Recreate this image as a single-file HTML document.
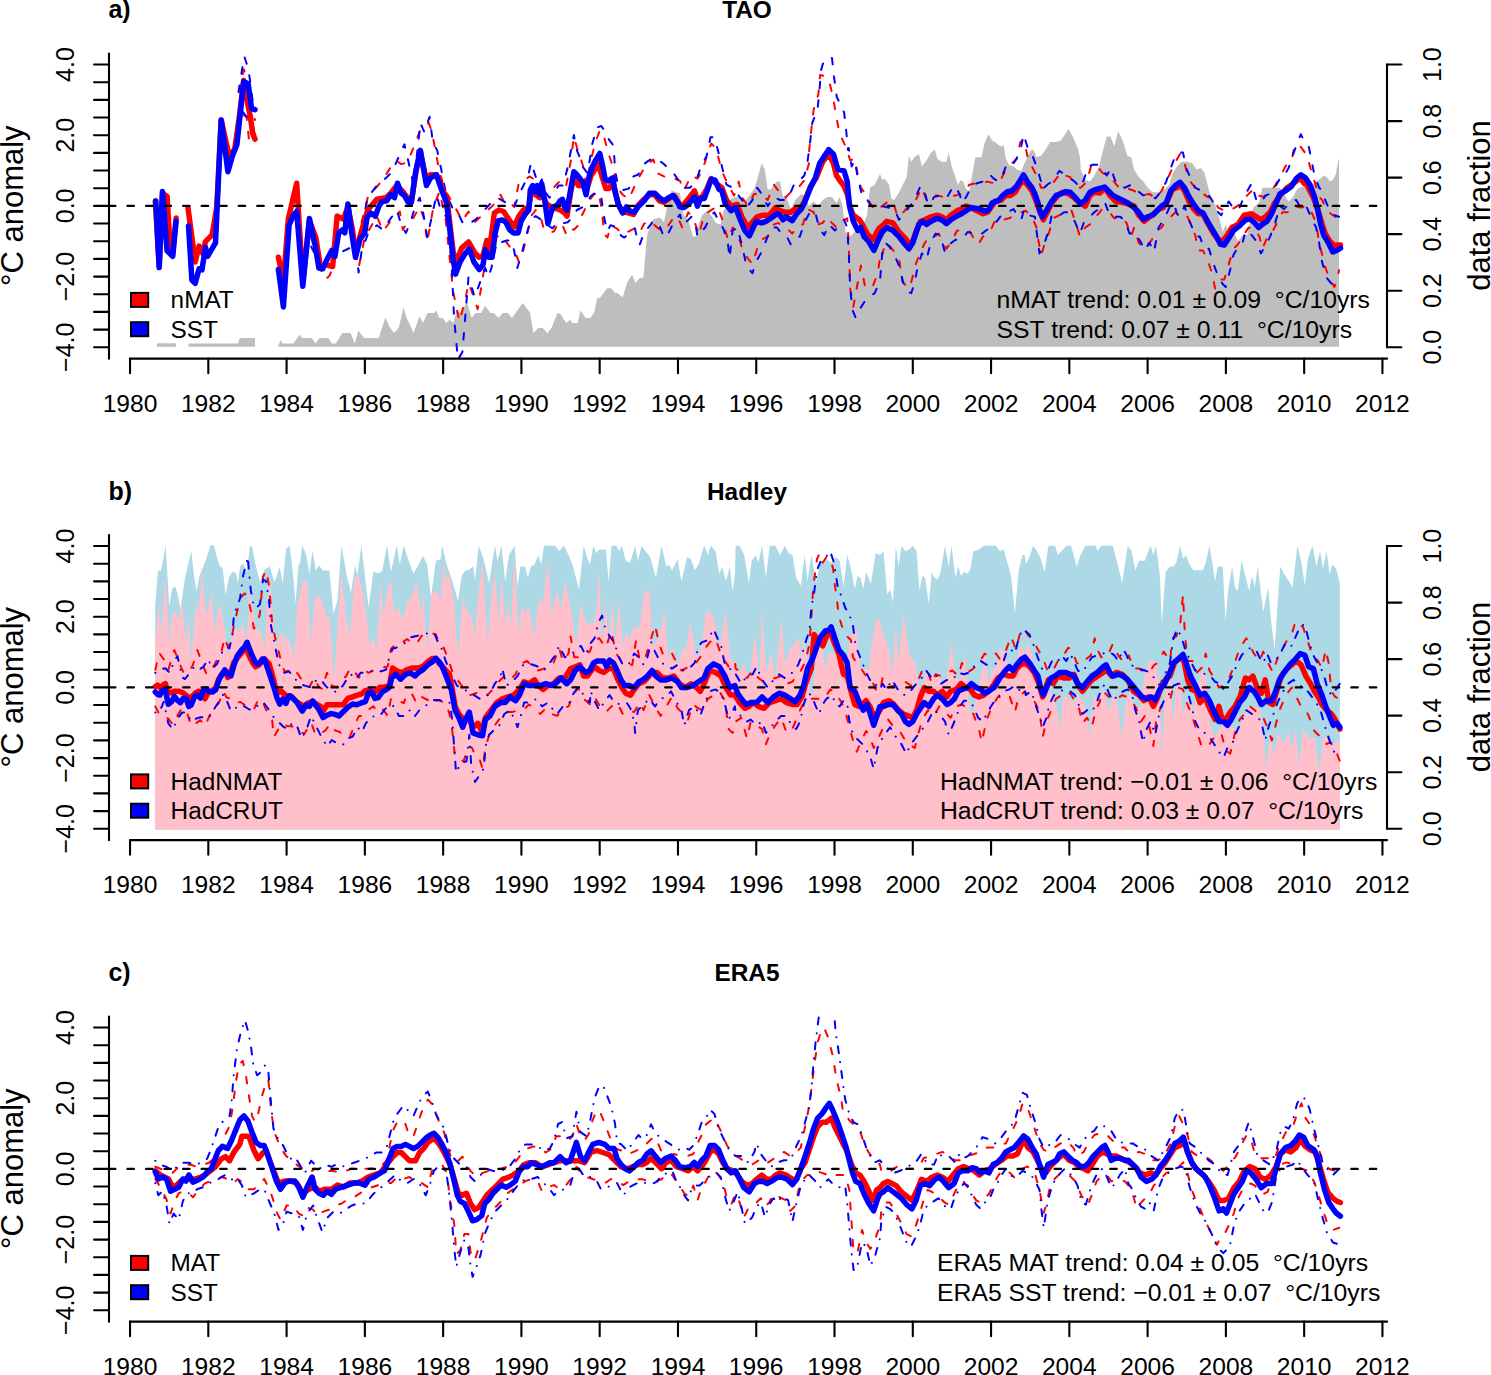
<!DOCTYPE html>
<html><head><meta charset="utf-8"><style>html,body{margin:0;padding:0;background:#fff;}svg{display:block;}</style></head><body>
<svg width="1491" height="1375" viewBox="0 0 1491 1375" font-family='"Liberation Sans", sans-serif'>
<rect width="1491" height="1375" fill="#fff"/>
<defs><clipPath id="cp0"><rect x="108" y="52.6" width="1280" height="306.4"/></clipPath><clipPath id="cp1"><rect x="108" y="534.1" width="1280" height="306.4"/></clipPath><clipPath id="cp2"><rect x="108" y="1015.6" width="1280" height="306.4"/></clipPath></defs>
<g clip-path="url(#cp0)">
<polygon points="157.0,346.8 157.0,343.3 176.0,343.3 176.0,346.8" fill="#bebebe"/>
<polygon points="188.5,346.8 188.5,343.5 238.0,343.5 240.0,338.0 255.0,338.0 255.0,346.8" fill="#bebebe"/>
<polygon points="278.3,346.8 278.3,345.8 280.5,340.0 282.7,343.5 293.5,343.5 299.5,334.8 302.2,338.1 311.6,338.1 315.6,343.5 319.6,338.1 328.4,338.1 331.7,343.5 335.7,343.5 342.4,333.0 350.5,333.0 354.8,343.5 358.5,330.6 363.9,338.1 378.7,338.1 385.4,317.6 390.1,327.7 394.1,333.0 398.8,327.7 403.5,306.9 406.2,316.9 409.5,323.7 413.5,333.0 419.6,316.3 422.9,323.0 427.6,312.9 434.3,312.9 436.3,310.2 439.0,317.6 443.0,318.3 446.4,323.0 449.7,319.6 453.1,323.0 457.1,310.2 460.5,312.9 467.0,302.3 471.7,317.7 475.7,313.0 481.1,313.0 485.1,305.7 490.5,313.0 493.8,313.0 498.5,318.1 502.6,313.0 507.9,313.0 511.9,318.1 522.7,303.0 530.1,312.4 533.4,333.2 538.1,328.1 542.8,328.1 547.5,333.2 551.5,327.8 557.6,313.0 560.2,313.7 566.3,323.1 570.3,319.8 572.3,323.1 577.7,323.1 580.4,310.4 585.7,318.1 590.4,318.1 594.4,311.7 597.1,298.0 599.8,298.0 607.2,288.2 611.2,288.2 615.2,292.9 617.9,293.2 622.6,297.6 627.3,282.2 632.0,274.8 635.4,282.9 639.4,278.2 643.4,277.5 647.2,234.4 653.3,219.1 660.1,217.6 664.0,222.2 667.0,206.9 671.6,190.1 673.9,191.6 680.0,193.2 683.7,215.2 688.3,219.8 692.9,236.6 696.0,236.6 699.0,222.9 702.1,215.2 706.7,210.7 711.2,215.2 715.8,222.9 720.4,224.4 723.5,210.7 728.0,206.1 731.1,198.4 735.7,196.9 740.3,196.9 744.8,201.5 749.4,195.4 754.0,189.3 757.1,180.1 761.6,163.3 764.7,169.4 767.7,189.3 770.8,189.3 773.9,184.7 776.9,181.6 780.0,181.6 783.0,196.9 786.1,195.4 790.7,209.1 795.2,200.0 801.3,193.9 804.4,195.4 809.0,206.1 813.6,201.5 818.1,206.1 822.7,200.0 827.3,196.9 831.9,196.9 836.5,203.0 839.5,196.9 842.6,206.1 845.6,232.0 850.2,236.6 853.3,233.6 859.4,224.4 864.0,222.9 867.0,215.2 870.1,187.7 874.7,184.7 880.0,174.0 882.2,180.1 884.5,178.6 886.8,181.6 889.1,184.7 891.4,198.4 894.4,200.0 899.0,192.3 903.6,183.2 906.7,177.1 908.9,155.7 911.2,161.8 914.3,157.2 918.9,154.1 921.9,166.4 926.5,160.3 931.1,152.6 934.9,149.6 937.2,158.7 941.8,161.8 946.4,161.8 948.7,152.6 951.7,166.4 954.8,175.5 957.8,184.7 960.9,180.1 963.2,181.6 966.2,189.3 969.3,190.8 972.3,174.0 975.4,157.2 981.5,157.2 984.5,143.5 988.4,134.3 992.2,140.4 995.2,141.9 998.3,145.0 1001.3,146.5 1003.6,145.0 1005.9,158.7 1009.0,164.8 1013.6,166.4 1016.6,169.4 1021.2,170.9 1025.8,160.3 1030.4,151.1 1033.4,149.6 1036.5,157.2 1041.1,155.7 1045.6,149.6 1050.2,141.9 1055.6,141.9 1060.9,140.4 1068.5,128.9 1073.1,137.3 1077.7,148.0 1080.0,157.2 1080.7,169.4 1085.3,180.1 1089.9,181.6 1094.4,175.5 1099.0,166.4 1102.8,151.1 1106.7,136.6 1110.5,136.6 1114.3,146.5 1118.1,131.2 1122.7,140.4 1127.3,155.7 1131.1,157.2 1134.1,169.4 1138.7,177.1 1143.3,181.6 1147.9,187.7 1152.5,192.3 1158.6,192.3 1164.7,189.3 1169.3,184.7 1172.3,174.0 1176.9,166.4 1181.5,161.8 1187.6,161.8 1192.2,163.3 1196.8,169.4 1200.6,167.9 1204.4,172.5 1207.5,184.7 1210.5,195.4 1215.1,204.5 1219.7,219.8 1222.7,232.0 1225.8,224.4 1228.8,233.6 1233.4,230.5 1238.0,241.2 1242.6,235.1 1247.2,235.1 1253.3,207.6 1255.6,206.1 1259.4,201.5 1262.4,187.7 1268.5,187.7 1274.7,187.7 1280.0,187.7 1285.5,196.9 1288.6,201.5 1293.2,196.9 1296.2,190.8 1299.3,187.7 1303.9,186.2 1306.9,187.7 1311.5,186.2 1316.1,181.6 1320.7,178.6 1323.7,175.5 1326.8,177.1 1329.8,181.6 1332.9,180.1 1335.9,174.0 1338.2,160.3 1339.0,158.7 1339.0,346.8" fill="#bebebe"/>
<polyline points="361.6,222.2 367.7,197.7 383.0,179.4 390.7,167.2 396.8,161.1 401.3,164.1 407.5,162.6 416.6,139.7 421.2,127.5 428.8,122.9 431.9,132.1 438.0,164.1 444.1,188.6 453.3,203.9 462.4,220.7 468.5,211.5 474.7,222.2 492.9,205.4 500.5,194.7 505.1,203.9 511.2,203.9 514.3,206.9 518.9,182.5 523.5,180.9 529.6,176.4 534.1,179.4 538.7,187.1 543.3,191.6 550.9,191.6 555.5,185.5 561.6,179.4 566.2,185.5 570.8,161.1 573.9,136.7 576.9,147.3 583.0,165.7 586.1,185.5 590.7,161.1 595.2,142.8 599.8,130.5 602.9,132.1 607.5,150.4 612.0,164.1 618.1,188.6 622.7,194.7 628.8,199.3 634.9,185.5 639.5,176.4 645.6,165.7 653.3,159.6 657.9,173.3 664.0,176.4 670.1,176.4 676.2,179.4 680.0,180.9 683.7,190.8 691.4,175.5 697.5,178.6 702.1,170.9 708.2,152.6 711.2,143.5 715.8,148.0 721.9,170.9 728.0,184.7 734.1,195.4 738.7,181.6 741.8,196.9 747.9,206.1 754.0,193.9 760.1,193.9 767.7,200.0 773.9,184.7 778.4,190.8 784.5,198.4 792.2,190.8 798.3,187.7 804.4,180.1 809.0,163.3 809.2,150.0 811.4,129.0 813.6,109.8 818.4,94.1 820.1,74.9 824.0,76.0 828.9,80.1 832.8,95.9 835.9,114.2 839.3,132.5 846.3,148.2 850.2,160.3 854.8,158.7 857.9,175.5 860.9,187.7 865.5,193.9 870.1,203.0 874.7,210.7 880.0,207.6 882.2,206.1 889.9,200.0 894.4,206.1 897.5,216.8 903.6,212.2 909.7,204.5 915.8,200.0 921.9,187.7 926.5,200.0 931.1,195.4 937.2,195.4 943.3,196.9 949.4,196.9 955.5,195.4 961.6,193.9 969.3,184.7 975.4,183.2 981.5,183.2 987.6,181.6 993.7,183.2 999.8,181.6 1004.4,172.5 1010.5,164.8 1016.6,158.7 1020.4,141.9 1024.3,140.4 1027.3,155.7 1031.9,166.4 1036.5,175.5 1041.1,187.7 1045.6,187.7 1051.7,184.7 1056.3,178.6 1060.9,172.5 1065.5,175.5 1070.1,177.1 1074.7,184.7 1080.0,187.7 1080.7,187.7 1086.8,181.6 1091.4,164.8 1097.5,166.4 1102.1,172.5 1106.7,175.5 1112.8,180.1 1118.9,187.7 1125.0,187.7 1134.1,190.8 1141.8,195.4 1149.4,193.9 1155.5,198.4 1161.6,190.8 1167.7,178.6 1173.9,164.8 1180.0,154.1 1184.5,163.3 1189.1,180.1 1195.2,187.7 1201.3,192.3 1207.5,196.9 1213.6,198.4 1218.1,207.6 1224.3,210.7 1228.8,210.7 1234.9,207.6 1239.5,204.5 1244.1,198.4 1248.7,193.9 1253.3,189.3 1257.9,195.4 1264.0,196.9 1268.5,193.9 1274.7,186.2 1280.0,177.1 1287.1,163.3 1291.6,160.3 1294.7,145.0 1299.3,145.0 1303.9,151.1 1306.9,155.7 1310.0,166.4 1314.5,181.6 1319.1,196.9 1322.2,200.0 1326.8,210.7 1332.9,215.2 1337.5,218.3" fill="none" stroke="#f00" stroke-width="2" stroke-linejoin="round" stroke-linecap="round" stroke-dasharray="6.6 11.9"/>
<polyline points="352.5,234.4 358.6,268.0 364.7,237.5 376.9,216.1 383.0,231.3 392.2,219.1 399.8,211.5 402.9,229.8 407.5,222.2 413.6,217.6 419.7,206.9 424.3,219.1 427.3,242.0 433.4,206.9 439.5,191.6 445.6,219.1 453.3,292.4 459.4,321.5 465.5,298.5 468.5,283.3 471.6,290.9 477.7,309.2 485.3,261.9 489.9,252.7 496.0,237.5 500.5,234.4 509.7,246.6 514.3,249.7 518.9,261.9 521.9,255.8 526.5,237.5 531.1,216.1 535.7,210.0 540.3,216.1 543.3,226.8 549.4,232.9 554.0,231.3 558.6,222.2 563.2,226.8 566.2,234.4 569.3,228.3 573.9,229.8 578.4,225.2 581.5,216.1 586.1,206.9 589.1,200.8 593.7,194.7 598.3,191.6 601.3,206.9 604.4,234.4 607.5,237.5 610.5,225.2 616.6,228.3 622.7,234.4 628.8,231.3 634.9,228.3 639.5,232.9 644.1,223.7 650.2,220.7 656.3,226.8 662.4,231.3 668.5,225.2 674.7,216.1 680.0,222.2 682.2,227.5 688.3,212.2 694.4,221.3 699.0,235.1 703.6,216.8 708.2,212.2 712.8,209.1 717.3,206.1 721.9,218.3 728.0,239.7 732.6,227.5 737.2,232.0 741.8,247.3 746.4,256.5 752.5,264.1 757.1,248.8 761.6,239.7 767.7,236.6 773.9,224.4 778.4,222.9 783.0,227.5 787.6,229.0 792.2,233.6 798.3,225.9 802.9,224.4 807.5,209.1 813.6,212.2 818.1,224.4 822.7,222.9 827.3,216.8 831.9,222.9 836.5,227.5 841.1,221.3 847.2,218.3 848.7,242.7 850.2,288.5 853.3,306.9 860.9,265.6 865.5,288.5 873.1,285.5 877.7,273.3 880.0,258.0 880.7,261.1 885.3,242.7 888.3,244.3 894.4,251.9 899.0,258.0 902.1,280.9 908.2,288.5 911.2,282.4 915.8,264.1 920.4,251.9 925.0,242.7 929.6,236.6 934.1,236.6 938.7,233.6 943.3,242.7 946.4,248.8 950.9,242.7 957.1,230.5 963.2,230.5 969.3,230.5 975.4,241.2 978.4,244.3 983.0,236.6 990.7,230.5 995.2,219.8 1002.9,219.8 1009.0,218.3 1015.1,215.2 1021.2,212.2 1025.8,210.7 1031.9,216.8 1036.5,227.5 1038.0,238.1 1041.1,254.9 1044.1,245.8 1048.7,233.6 1053.3,218.3 1059.4,215.2 1065.5,212.2 1071.6,210.7 1076.2,224.4 1080.0,236.6 1085.3,227.5 1089.9,224.4 1096.0,216.8 1102.1,209.1 1108.2,210.7 1114.3,218.3 1120.4,216.8 1126.5,222.9 1131.1,236.6 1134.1,227.5 1138.7,242.7 1144.8,248.8 1150.9,241.2 1157.1,230.5 1161.6,227.5 1164.7,222.9 1169.3,218.3 1175.4,212.2 1181.5,215.2 1187.6,216.8 1190.7,224.4 1195.2,235.1 1198.3,250.4 1202.9,250.4 1207.5,259.5 1212.0,273.3 1215.1,288.5 1219.7,279.4 1224.3,279.4 1228.8,264.1 1233.4,248.8 1238.0,244.3 1242.6,236.6 1248.7,227.5 1254.8,229.0 1259.4,236.6 1262.4,248.8 1267.0,238.1 1273.1,230.5 1280.0,216.8 1282.5,212.2 1288.6,212.2 1294.7,206.1 1300.8,207.6 1306.9,206.1 1311.5,212.2 1316.1,222.9 1319.1,242.7 1322.2,254.9 1325.2,267.2 1329.8,279.4 1334.4,287.0 1337.5,277.9 1339.0,270.2" fill="none" stroke="#f00" stroke-width="2" stroke-linejoin="round" stroke-linecap="round" stroke-dasharray="6.6 11.9"/>
<polyline points="239.0,92.0 243.9,69.4 246.6,77.0 250.0,95.0 253.0,110.0 255.0,120.0" fill="none" stroke="#f00" stroke-width="2" stroke-linejoin="round" stroke-linecap="round" stroke-dasharray="6.6 11.9"/>
<polyline points="243.5,115.2 246.6,116.8 249.0,140.0 252.0,143.0 255.0,145.0" fill="none" stroke="#f00" stroke-width="2" stroke-linejoin="round" stroke-linecap="round" stroke-dasharray="6.6 11.9"/>
<polyline points="318.9,264.9 322.7,274.1 325.7,279.5 329.6,275.6 332.6,268.0" fill="none" stroke="#f00" stroke-width="2" stroke-linejoin="round" stroke-linecap="round" stroke-dasharray="6.6 11.9"/>
<polyline points="361.6,226.8 367.7,197.7 376.9,185.5 386.1,177.9 392.2,171.8 396.8,161.1 404.4,144.3 409.0,164.1 413.6,185.5 420.4,122.9 424.3,132.1 429.6,116.8 432.7,141.2 437.2,150.4 441.1,168.7 445.6,191.6 453.3,210.0 457.9,213.0 462.4,222.2 467.0,225.2 476.2,219.1 492.9,200.8 497.5,197.7 505.1,202.3 509.7,206.9 514.3,206.9 518.9,194.7 523.5,185.5 528.0,176.4 531.1,162.6 534.1,171.8 538.7,185.5 541.8,179.4 544.8,191.6 549.4,197.7 554.0,193.2 558.6,185.5 563.2,185.5 567.7,167.2 573.9,135.1 576.9,150.4 580.0,158.0 583.0,167.2 587.6,173.3 592.2,144.3 596.8,127.5 601.3,126.0 604.4,130.5 609.0,139.7 613.6,145.8 615.1,170.3 618.1,185.5 622.7,190.1 628.8,188.6 633.4,176.4 638.0,174.8 644.1,164.1 647.9,161.1 653.3,158.0 657.9,159.6 664.0,164.1 668.5,168.7 674.7,174.8 680.0,182.5 682.2,187.7 689.9,187.7 696.0,181.6 700.5,167.9 706.7,155.7 710.5,137.3 714.3,137.3 717.3,148.0 721.9,166.4 726.5,184.7 732.6,187.7 737.2,193.9 743.3,201.5 746.4,207.6 752.5,200.0 757.1,187.7 761.6,193.9 767.7,206.1 773.9,196.9 780.0,200.0 786.1,200.0 790.7,192.3 795.2,181.6 801.3,178.6 804.4,175.5 807.5,161.8 810.0,143.0 812.3,122.9 817.5,109.8 819.3,92.4 821.0,70.5 824.0,60.0 827.0,58.3 832.0,58.0 834.0,76.7 836.7,96.7 844.1,112.4 846.3,131.6 848.0,150.0 848.7,148.0 851.7,166.4 854.8,160.3 857.9,178.6 862.4,196.9 865.5,196.9 870.1,204.5 874.7,207.6 880.0,206.1 882.2,206.1 888.3,207.6 894.4,209.1 899.0,219.8 905.1,212.2 911.2,204.5 915.8,196.9 920.4,186.2 923.5,187.7 928.0,204.5 931.1,203.0 934.1,196.9 940.3,195.4 946.4,198.4 952.5,187.7 955.5,186.2 960.1,195.4 961.6,203.0 966.2,196.9 970.8,187.7 976.9,183.2 983.0,181.6 987.6,175.5 990.7,175.5 993.7,178.6 998.3,181.6 1002.9,174.0 1005.9,166.4 1010.5,167.9 1016.6,158.7 1021.2,146.5 1023.5,134.3 1027.3,146.5 1031.9,154.1 1036.5,166.4 1041.1,181.6 1042.6,189.3 1047.2,184.7 1051.7,181.6 1056.3,175.5 1059.4,170.9 1064.0,174.0 1068.5,177.1 1074.7,181.6 1080.0,187.7 1083.7,180.1 1088.3,166.4 1092.9,164.8 1097.5,164.8 1102.1,167.9 1106.7,175.5 1111.2,167.9 1114.3,178.6 1118.9,186.2 1125.0,187.7 1131.1,184.7 1135.7,189.3 1143.3,195.4 1149.4,193.9 1155.5,198.4 1161.6,190.8 1166.2,181.6 1170.8,167.9 1175.4,155.7 1178.4,152.6 1183.0,152.6 1186.1,167.9 1190.7,178.6 1195.2,187.7 1201.3,190.8 1207.5,193.9 1212.0,200.0 1218.1,212.2 1221.2,215.2 1225.8,206.1 1228.8,201.5 1234.9,210.7 1239.5,207.6 1244.1,196.9 1251.7,183.2 1256.3,200.0 1260.9,203.0 1265.5,195.4 1270.1,193.9 1274.7,187.7 1280.0,178.6 1282.5,178.6 1288.6,167.9 1293.2,154.1 1297.7,141.9 1300.8,134.3 1303.9,140.4 1308.4,145.0 1311.5,160.3 1314.5,175.5 1319.1,187.7 1322.2,190.8 1325.2,200.0 1329.8,210.7 1334.4,215.2 1339.0,216.8" fill="none" stroke="#00f" stroke-width="2" stroke-linejoin="round" stroke-linecap="round" stroke-dasharray="6.6 11.9"/>
<polyline points="343.3,251.2 355.5,245.1 358.6,272.6 361.6,251.2 367.7,234.4 376.9,225.2 383.0,229.8 389.1,220.7 396.8,210.0 401.3,225.2 405.9,232.9 410.5,222.2 415.1,206.9 419.7,197.7 422.7,210.0 427.3,237.5 431.9,216.1 436.5,194.7 441.1,211.5 447.2,217.6 451.7,264.9 454.0,316.9 457.9,359.6 462.4,352.0 468.5,277.2 474.7,297.0 485.3,268.0 488.3,277.2 491.4,268.0 494.4,252.7 497.5,240.5 502.1,242.0 506.7,240.5 511.2,240.5 514.3,251.2 517.3,268.0 521.9,252.7 526.5,234.4 531.1,219.1 535.7,216.1 540.3,219.1 544.8,222.2 547.9,225.2 552.5,228.3 557.1,222.2 561.6,223.7 567.7,222.2 570.8,219.1 576.9,210.0 583.0,206.9 586.1,203.9 590.7,196.2 596.8,191.6 601.3,197.7 604.4,219.1 607.5,231.3 610.5,225.2 616.6,226.8 621.2,235.9 624.3,237.5 630.4,232.9 634.9,228.3 638.0,242.0 639.5,245.1 644.1,232.9 650.2,225.2 653.3,220.7 659.4,225.2 664.0,237.5 667.0,235.9 673.1,223.7 677.7,217.6 680.0,214.5 682.2,224.4 685.3,222.9 691.4,216.8 696.0,227.5 697.5,236.6 705.1,227.5 709.7,218.3 714.3,212.2 718.9,221.3 723.5,229.0 728.0,244.3 729.6,258.0 732.6,230.5 737.2,227.5 741.8,244.3 746.4,265.6 752.5,273.3 755.5,262.6 761.6,251.9 767.7,236.6 772.3,227.5 776.9,227.5 781.5,233.6 786.1,235.1 790.7,244.3 795.2,238.1 799.8,236.6 804.4,222.9 810.5,210.7 815.1,212.2 819.7,229.0 824.3,235.1 828.8,224.4 834.9,230.5 839.5,225.9 844.1,219.8 847.2,227.5 848.7,251.9 850.2,288.5 852.5,309.9 855.6,317.6 859.4,309.9 865.5,300.0 874.7,293.1 880.0,280.9 882.2,253.4 885.3,242.7 889.9,247.3 894.4,254.9 899.0,265.6 903.6,284.0 907.4,291.6 911.2,293.1 914.3,284.0 917.3,268.7 921.9,253.4 926.5,259.5 931.1,241.2 935.7,233.6 940.3,235.1 944.8,251.9 949.4,244.3 955.5,239.7 961.6,239.7 967.7,232.0 973.9,233.6 980.0,235.1 986.1,230.5 992.2,225.9 996.8,221.3 1001.3,215.2 1007.5,212.2 1013.6,209.1 1018.1,216.8 1021.2,219.8 1024.3,209.1 1028.8,215.2 1034.9,216.8 1038.0,242.7 1039.5,253.4 1044.1,244.3 1048.7,230.5 1051.7,215.2 1057.9,216.8 1064.0,212.2 1068.5,212.2 1074.7,221.3 1080.0,233.6 1083.7,222.9 1089.9,216.8 1094.4,212.2 1100.5,207.6 1105.1,203.0 1109.7,215.2 1114.3,216.8 1120.4,216.8 1125.0,221.3 1129.6,233.6 1134.1,232.0 1140.3,241.2 1144.8,250.4 1149.4,242.7 1154.0,251.9 1158.6,227.5 1164.7,218.3 1169.3,207.6 1173.9,203.0 1176.9,213.7 1180.0,216.8 1184.5,206.1 1189.1,219.8 1192.2,227.5 1196.8,236.6 1199.8,236.6 1204.4,248.8 1209.0,248.8 1213.6,264.1 1218.1,276.3 1222.7,284.0 1225.8,287.0 1230.4,268.7 1233.4,254.9 1238.0,247.3 1242.6,242.7 1245.6,230.5 1251.7,235.1 1256.3,241.2 1260.9,253.4 1265.5,245.8 1270.1,236.6 1274.7,224.4 1280.0,206.1 1284.0,209.1 1291.6,201.5 1296.2,200.0 1302.3,210.7 1306.9,207.6 1311.5,218.3 1316.1,227.5 1319.1,242.7 1322.2,262.6 1326.8,277.9 1332.9,285.5 1337.5,287.0" fill="none" stroke="#00f" stroke-width="2" stroke-linejoin="round" stroke-linecap="round" stroke-dasharray="6.6 11.9"/>
<polyline points="238.5,92.0 241.2,74.8 244.3,56.5 248.1,67.9 250.0,80.0 252.5,100.0 255.0,108.0" fill="none" stroke="#00f" stroke-width="2" stroke-linejoin="round" stroke-linecap="round" stroke-dasharray="6.6 11.9"/>
<polyline points="243.0,112.0 246.0,116.0 250.4,119.8 252.0,125.0 255.0,135.0" fill="none" stroke="#00f" stroke-width="2" stroke-linejoin="round" stroke-linecap="round" stroke-dasharray="6.6 11.9"/>
<polyline points="311.2,246.6 314.3,252.7 318.9,266.5 322.7,271.1 326.5,274.1" fill="none" stroke="#00f" stroke-width="2" stroke-linejoin="round" stroke-linecap="round" stroke-dasharray="6.6 11.9"/>
<polyline points="155.3,201.1 159.2,266.4 162.5,193.2 167.1,196.5 170.4,252.9 172.7,254.0 176.1,218.0" fill="none" stroke="#f00" stroke-width="5.5" stroke-linejoin="round" stroke-linecap="round"/>
<polyline points="188.0,207.8 195.2,261.9 199.1,246.1 203.1,254.0 205.4,241.6 212.1,234.9 216.7,207.8 221.2,119.9 229.1,156.0 234.7,149.2 239.2,117.6 243.7,80.4 246.0,95.1 250.5,117.6 252.7,133.4 255.0,139.1" fill="none" stroke="#f00" stroke-width="5.5" stroke-linejoin="round" stroke-linecap="round"/>
<polyline points="278.4,257.3 283.4,281.7 288.3,219.1 296.7,183.2 302.8,281.7 309.4,220.7 315.8,237.5 320.4,266.5 326.5,264.9 332.6,266.5 337.2,216.1 343.3,219.1 347.9,206.9 352.5,229.8 355.5,254.3 360.1,235.9 367.7,210.0 376.9,199.3 386.1,197.7 390.7,193.2 396.8,185.5 402.9,191.6 408.2,199.3 411.3,202.3 415.9,171.8 420.4,151.9 426.5,180.9 430.4,174.8 436.5,174.8 441.1,185.5 447.2,200.8 453.3,252.7 456.3,261.9 461.7,248.1 468.5,242.0 474.7,252.7 479.2,257.3 483.0,255.8 486.8,240.5 489.1,252.7 494.4,213.0 499.0,210.0 503.6,211.5 509.7,220.7 514.3,226.8 518.9,216.1 523.5,210.0 528.8,206.9 531.1,193.2 535.7,194.7 539.5,197.7 541.8,193.2 546.4,203.9 550.9,206.9 555.5,208.4 560.1,210.0 564.7,213.0 567.0,216.1 570.8,191.6 573.9,176.4 578.4,185.5 583.0,185.5 586.1,191.6 590.7,176.4 598.3,164.1 602.9,179.4 605.9,188.6 609.0,188.6 612.8,182.5 615.9,194.7 618.9,205.4 622.7,211.5 628.8,213.0 633.4,214.5 638.0,205.4 644.1,199.3 649.5,194.7 654.8,194.7 659.4,200.8 664.0,202.3 670.1,197.7 674.7,196.2 680.0,205.4 683.7,204.5 689.9,196.9 694.4,190.8 697.5,200.0 702.1,196.9 706.7,189.3 711.2,178.6 715.8,183.2 721.9,187.7 726.5,200.0 731.1,206.1 737.2,204.5 741.8,216.8 747.9,227.5 753.2,221.3 757.1,216.8 763.2,215.2 769.3,215.2 775.4,207.6 780.0,210.7 784.5,212.2 790.7,212.2 796.8,207.6 801.3,207.6 804.4,201.5 810.5,186.2 816.6,177.1 822.7,161.8 828.8,154.1 833.4,163.3 836.5,175.5 839.5,180.1 844.1,186.2 847.2,193.9 850.2,207.6 853.3,215.2 859.4,219.8 862.4,224.4 867.0,233.6 873.1,239.7 877.7,230.5 880.0,227.5 882.2,225.9 886.8,221.3 892.9,222.9 899.0,232.0 905.1,238.1 909.7,244.3 912.8,241.2 915.8,232.0 920.4,221.3 925.0,219.8 931.1,216.8 937.2,215.2 941.8,216.8 946.4,219.8 950.9,215.2 957.1,210.7 961.6,209.1 966.2,206.1 970.8,207.6 976.9,210.7 983.0,213.7 987.6,212.2 990.7,207.6 995.2,201.5 1001.3,200.0 1005.9,195.4 1010.5,195.4 1015.1,192.3 1019.7,184.7 1023.5,180.1 1027.3,184.7 1031.9,190.8 1035.7,200.0 1039.5,210.7 1043.3,219.8 1047.2,212.2 1051.7,203.0 1057.9,195.4 1062.4,192.3 1068.5,193.9 1073.1,196.9 1080.0,203.0 1085.3,206.1 1089.9,195.4 1094.4,192.3 1099.8,193.1 1105.1,187.7 1109.7,195.4 1115.8,201.5 1121.9,202.3 1128.0,203.8 1134.1,206.1 1138.7,215.2 1144.1,221.3 1149.4,216.8 1154.0,213.7 1158.6,209.1 1163.2,207.6 1167.7,200.0 1172.3,189.3 1176.9,187.7 1180.0,184.7 1184.5,190.8 1189.1,201.5 1193.7,209.1 1198.3,213.7 1202.9,213.7 1207.5,222.9 1213.6,233.6 1218.1,239.7 1222.7,241.2 1227.3,235.1 1231.9,227.5 1238.0,224.4 1244.1,215.2 1251.7,213.7 1256.3,216.8 1260.9,219.8 1265.5,216.8 1270.1,212.2 1274.7,203.0 1280.0,195.4 1287.1,187.7 1291.6,184.7 1297.7,180.1 1300.8,178.6 1303.9,183.2 1306.9,184.7 1313.0,196.9 1317.6,209.1 1322.2,224.4 1325.2,233.6 1329.8,241.2 1334.4,245.8 1337.5,245.0 1340.5,245.0" fill="none" stroke="#f00" stroke-width="5.5" stroke-linejoin="round" stroke-linecap="round"/>
<polyline points="155.8,201.1 159.2,267.6 162.5,191.6 167.1,250.7 172.7,256.3 176.1,221.3" fill="none" stroke="#00f" stroke-width="5.5" stroke-linejoin="round" stroke-linecap="round"/>
<polyline points="188.5,225.9 191.9,280.0 195.2,283.3 199.1,268.7 202.0,269.8 205.4,247.3 207.6,256.3 215.5,242.8 221.2,119.9 227.9,171.7 232.4,156.0 236.9,144.7 243.7,81.6 248.2,83.8 251.6,108.6 255.0,109.7" fill="none" stroke="#00f" stroke-width="5.5" stroke-linejoin="round" stroke-linecap="round"/>
<polyline points="278.4,269.5 283.4,306.9 289.1,225.2 292.9,216.1 296.7,211.5 302.8,286.3 309.4,218.4 313.5,239.0 315.1,245.1 318.9,268.0 322.7,268.8 327.3,258.8 331.9,250.4 334.9,256.5 338.7,232.9 342.5,229.8 344.8,232.9 347.9,203.9 351.7,232.9 355.5,257.3 360.1,239.0 364.7,232.9 367.0,217.6 370.8,213.0 375.4,216.1 379.2,205.4 382.3,201.6 386.8,200.8 390.7,194.7 394.5,197.7 397.5,183.2 401.3,193.2 404.4,195.5 408.2,202.3 411.3,202.3 415.9,170.3 420.4,150.4 422.7,164.1 426.5,185.5 430.4,177.9 436.5,174.8 441.1,188.6 446.4,202.3 450.2,232.9 453.3,260.4 455.6,274.1 460.1,261.9 464.7,254.3 469.3,248.9 473.9,261.9 479.2,269.5 483.0,264.9 485.3,249.7 489.1,257.3 492.1,257.3 495.2,232.9 498.3,220.7 502.1,219.9 505.9,222.2 509.7,229.8 513.5,232.9 518.1,232.9 521.2,220.7 525.0,214.5 528.8,210.0 530.3,190.1 532.6,185.5 534.9,191.6 537.2,185.5 539.5,194.7 541.8,184.0 544.8,200.8 547.9,223.7 550.9,213.0 553.2,206.9 557.1,205.4 560.1,200.8 562.4,199.3 564.7,206.9 567.0,210.0 570.0,193.2 573.9,171.8 576.9,174.8 583.0,182.5 586.1,194.7 589.1,176.4 592.2,167.2 596.0,159.6 599.8,153.5 602.9,167.2 605.2,179.4 608.2,180.9 612.8,177.9 615.1,191.6 618.1,203.9 622.7,213.0 626.5,206.9 630.4,211.5 634.2,212.3 638.0,206.9 644.1,200.8 649.5,193.2 654.8,193.2 659.4,197.7 664.0,200.8 668.5,197.7 673.1,195.5 677.7,202.3 680.0,206.9 683.7,207.6 688.3,204.5 694.4,196.9 697.5,206.1 700.5,198.4 704.4,198.4 708.2,187.7 711.2,179.3 715.1,180.1 718.9,189.3 721.9,190.8 725.0,203.0 731.1,210.7 735.7,207.6 740.3,219.8 744.8,230.5 749.4,235.9 753.2,227.5 756.3,221.3 761.6,222.9 766.2,221.3 770.8,218.3 776.9,213.7 780.0,215.2 783.0,219.8 786.1,216.8 792.2,220.6 796.8,213.7 801.3,209.1 804.4,203.0 810.5,187.7 815.1,178.6 819.7,163.3 822.7,158.7 828.8,149.6 833.4,154.1 836.5,164.8 838.0,169.4 844.1,170.9 847.2,181.6 849.5,206.1 853.3,221.3 857.9,230.5 860.9,227.5 864.0,236.6 868.5,241.2 873.9,250.4 877.7,241.2 880.0,236.6 882.2,232.0 886.8,227.5 892.9,230.5 899.0,236.6 903.6,242.7 908.9,248.8 912.8,242.7 915.8,233.6 918.9,224.4 922.7,221.3 926.5,224.4 931.1,221.3 937.2,218.3 941.8,219.8 946.4,223.6 950.9,219.8 955.5,216.8 961.6,213.7 966.2,210.7 970.8,207.6 976.9,208.4 981.5,209.9 986.1,211.4 989.1,209.1 992.2,203.0 995.2,201.5 998.3,200.7 1002.9,195.4 1007.5,191.6 1012.0,190.8 1016.6,186.2 1020.4,180.1 1023.5,174.8 1027.3,181.6 1031.9,187.7 1034.9,193.9 1038.0,203.0 1040.3,212.2 1042.6,216.8 1047.2,209.1 1051.7,201.5 1056.3,195.4 1060.9,193.9 1065.5,191.6 1070.1,192.3 1074.7,196.9 1080.0,203.0 1080.7,203.8 1085.3,200.0 1089.9,192.3 1094.4,190.0 1099.8,188.5 1104.4,187.0 1108.2,190.8 1112.8,195.4 1117.3,197.7 1121.9,200.0 1128.0,203.0 1134.1,207.6 1138.7,212.2 1143.3,219.1 1147.9,216.8 1152.5,215.2 1157.1,210.7 1161.6,206.1 1166.2,203.0 1170.8,190.8 1175.4,185.5 1180.0,182.4 1184.5,187.7 1189.1,196.9 1193.7,204.5 1198.3,210.7 1202.9,212.9 1207.5,221.3 1212.0,229.0 1216.6,236.6 1220.4,244.3 1224.3,245.0 1228.8,238.1 1233.4,230.5 1239.5,225.9 1245.6,219.8 1250.2,219.1 1254.8,222.9 1258.6,227.5 1262.4,224.4 1267.0,221.3 1271.6,213.7 1276.2,203.0 1280.0,193.9 1285.5,190.8 1291.6,186.2 1296.2,178.6 1300.8,174.8 1305.4,177.8 1310.0,184.7 1314.5,196.9 1317.6,209.1 1320.7,224.4 1323.7,235.1 1328.3,242.7 1332.9,251.9 1336.7,250.4 1340.5,248.1" fill="none" stroke="#00f" stroke-width="5.5" stroke-linejoin="round" stroke-linecap="round"/>
</g>
<line x1="108.86" y1="205.9" x2="1376.3" y2="205.9" stroke="#000" stroke-width="2.1" stroke-dasharray="6.6 11.943" stroke-linecap="round"/>
<text x="108.4" y="18.2" font-weight="bold" font-size="25">a)</text>
<text x="747" y="18.0" font-weight="bold" font-size="24.4" text-anchor="middle">TAO</text>
<line x1="109" y1="53.6" x2="109" y2="358.7" stroke="#000" stroke-width="2.1" stroke-linecap="round"/>
<line x1="94.05" y1="347.26" x2="109" y2="347.26" stroke="#000" stroke-width="2.1" stroke-linecap="round"/>
<line x1="94.05" y1="329.59" x2="109" y2="329.59" stroke="#000" stroke-width="2.1" stroke-linecap="round"/>
<line x1="94.05" y1="311.92" x2="109" y2="311.92" stroke="#000" stroke-width="2.1" stroke-linecap="round"/>
<line x1="94.05" y1="294.25" x2="109" y2="294.25" stroke="#000" stroke-width="2.1" stroke-linecap="round"/>
<line x1="94.05" y1="276.58" x2="109" y2="276.58" stroke="#000" stroke-width="2.1" stroke-linecap="round"/>
<line x1="94.05" y1="258.91" x2="109" y2="258.91" stroke="#000" stroke-width="2.1" stroke-linecap="round"/>
<line x1="94.05" y1="241.24" x2="109" y2="241.24" stroke="#000" stroke-width="2.1" stroke-linecap="round"/>
<line x1="94.05" y1="223.57" x2="109" y2="223.57" stroke="#000" stroke-width="2.1" stroke-linecap="round"/>
<line x1="94.05" y1="205.90" x2="109" y2="205.90" stroke="#000" stroke-width="2.1" stroke-linecap="round"/>
<line x1="94.05" y1="188.23" x2="109" y2="188.23" stroke="#000" stroke-width="2.1" stroke-linecap="round"/>
<line x1="94.05" y1="170.56" x2="109" y2="170.56" stroke="#000" stroke-width="2.1" stroke-linecap="round"/>
<line x1="94.05" y1="152.89" x2="109" y2="152.89" stroke="#000" stroke-width="2.1" stroke-linecap="round"/>
<line x1="94.05" y1="135.22" x2="109" y2="135.22" stroke="#000" stroke-width="2.1" stroke-linecap="round"/>
<line x1="94.05" y1="117.55" x2="109" y2="117.55" stroke="#000" stroke-width="2.1" stroke-linecap="round"/>
<line x1="94.05" y1="99.88" x2="109" y2="99.88" stroke="#000" stroke-width="2.1" stroke-linecap="round"/>
<line x1="94.05" y1="82.21" x2="109" y2="82.21" stroke="#000" stroke-width="2.1" stroke-linecap="round"/>
<line x1="94.05" y1="64.54" x2="109" y2="64.54" stroke="#000" stroke-width="2.1" stroke-linecap="round"/>
<text transform="translate(74.2,64.5) rotate(-90)" font-size="25" text-anchor="middle">4.0</text>
<text transform="translate(74.2,135.2) rotate(-90)" font-size="25" text-anchor="middle">2.0</text>
<text transform="translate(74.2,205.9) rotate(-90)" font-size="25" text-anchor="middle">0.0</text>
<text transform="translate(74.2,276.6) rotate(-90)" font-size="25" text-anchor="middle">−2.0</text>
<text transform="translate(74.2,347.3) rotate(-90)" font-size="25" text-anchor="middle">−4.0</text>
<text transform="translate(23.3,205.7) rotate(-90)" font-size="31" text-anchor="middle">°C anomaly</text>
<line x1="130.04" y1="358.6" x2="1387.1" y2="358.6" stroke="#000" stroke-width="2.1" stroke-linecap="round"/>
<line x1="130.04" y1="358.6" x2="130.04" y2="373.3" stroke="#000" stroke-width="2.1" stroke-linecap="round"/>
<text x="130.0" y="411.7" font-size="24.6" text-anchor="middle">1980</text>
<line x1="208.31" y1="358.6" x2="208.31" y2="373.3" stroke="#000" stroke-width="2.1" stroke-linecap="round"/>
<text x="208.3" y="411.7" font-size="24.6" text-anchor="middle">1982</text>
<line x1="286.59" y1="358.6" x2="286.59" y2="373.3" stroke="#000" stroke-width="2.1" stroke-linecap="round"/>
<text x="286.6" y="411.7" font-size="24.6" text-anchor="middle">1984</text>
<line x1="364.87" y1="358.6" x2="364.87" y2="373.3" stroke="#000" stroke-width="2.1" stroke-linecap="round"/>
<text x="364.9" y="411.7" font-size="24.6" text-anchor="middle">1986</text>
<line x1="443.14" y1="358.6" x2="443.14" y2="373.3" stroke="#000" stroke-width="2.1" stroke-linecap="round"/>
<text x="443.1" y="411.7" font-size="24.6" text-anchor="middle">1988</text>
<line x1="521.41" y1="358.6" x2="521.41" y2="373.3" stroke="#000" stroke-width="2.1" stroke-linecap="round"/>
<text x="521.4" y="411.7" font-size="24.6" text-anchor="middle">1990</text>
<line x1="599.69" y1="358.6" x2="599.69" y2="373.3" stroke="#000" stroke-width="2.1" stroke-linecap="round"/>
<text x="599.7" y="411.7" font-size="24.6" text-anchor="middle">1992</text>
<line x1="677.97" y1="358.6" x2="677.97" y2="373.3" stroke="#000" stroke-width="2.1" stroke-linecap="round"/>
<text x="678.0" y="411.7" font-size="24.6" text-anchor="middle">1994</text>
<line x1="756.24" y1="358.6" x2="756.24" y2="373.3" stroke="#000" stroke-width="2.1" stroke-linecap="round"/>
<text x="756.2" y="411.7" font-size="24.6" text-anchor="middle">1996</text>
<line x1="834.51" y1="358.6" x2="834.51" y2="373.3" stroke="#000" stroke-width="2.1" stroke-linecap="round"/>
<text x="834.5" y="411.7" font-size="24.6" text-anchor="middle">1998</text>
<line x1="912.79" y1="358.6" x2="912.79" y2="373.3" stroke="#000" stroke-width="2.1" stroke-linecap="round"/>
<text x="912.8" y="411.7" font-size="24.6" text-anchor="middle">2000</text>
<line x1="991.07" y1="358.6" x2="991.07" y2="373.3" stroke="#000" stroke-width="2.1" stroke-linecap="round"/>
<text x="991.1" y="411.7" font-size="24.6" text-anchor="middle">2002</text>
<line x1="1069.34" y1="358.6" x2="1069.34" y2="373.3" stroke="#000" stroke-width="2.1" stroke-linecap="round"/>
<text x="1069.3" y="411.7" font-size="24.6" text-anchor="middle">2004</text>
<line x1="1147.62" y1="358.6" x2="1147.62" y2="373.3" stroke="#000" stroke-width="2.1" stroke-linecap="round"/>
<text x="1147.6" y="411.7" font-size="24.6" text-anchor="middle">2006</text>
<line x1="1225.89" y1="358.6" x2="1225.89" y2="373.3" stroke="#000" stroke-width="2.1" stroke-linecap="round"/>
<text x="1225.9" y="411.7" font-size="24.6" text-anchor="middle">2008</text>
<line x1="1304.16" y1="358.6" x2="1304.16" y2="373.3" stroke="#000" stroke-width="2.1" stroke-linecap="round"/>
<text x="1304.2" y="411.7" font-size="24.6" text-anchor="middle">2010</text>
<line x1="1382.44" y1="358.6" x2="1382.44" y2="373.3" stroke="#000" stroke-width="2.1" stroke-linecap="round"/>
<text x="1382.4" y="411.7" font-size="24.6" text-anchor="middle">2012</text>
<line x1="1387" y1="64.56" x2="1387" y2="347.25" stroke="#000" stroke-width="2.1" stroke-linecap="round"/>
<line x1="1387" y1="347.25" x2="1401.4" y2="347.25" stroke="#000" stroke-width="2.1" stroke-linecap="round"/>
<text transform="translate(1441,347.2) rotate(-90)" font-size="25" text-anchor="middle">0.0</text>
<line x1="1387" y1="290.71" x2="1401.4" y2="290.71" stroke="#000" stroke-width="2.1" stroke-linecap="round"/>
<text transform="translate(1441,290.7) rotate(-90)" font-size="25" text-anchor="middle">0.2</text>
<line x1="1387" y1="234.17" x2="1401.4" y2="234.17" stroke="#000" stroke-width="2.1" stroke-linecap="round"/>
<text transform="translate(1441,234.2) rotate(-90)" font-size="25" text-anchor="middle">0.4</text>
<line x1="1387" y1="177.64" x2="1401.4" y2="177.64" stroke="#000" stroke-width="2.1" stroke-linecap="round"/>
<text transform="translate(1441,177.6) rotate(-90)" font-size="25" text-anchor="middle">0.6</text>
<line x1="1387" y1="121.10" x2="1401.4" y2="121.10" stroke="#000" stroke-width="2.1" stroke-linecap="round"/>
<text transform="translate(1441,121.1) rotate(-90)" font-size="25" text-anchor="middle">0.8</text>
<line x1="1387" y1="64.56" x2="1401.4" y2="64.56" stroke="#000" stroke-width="2.1" stroke-linecap="round"/>
<text transform="translate(1441,64.6) rotate(-90)" font-size="25" text-anchor="middle">1.0</text>
<text transform="translate(1490,205.5) rotate(-90)" font-size="31" text-anchor="middle">data fraction</text>
<rect x="131" y="292.9" width="17.2" height="14" fill="#f00" stroke="#000" stroke-width="2"/>
<rect x="131" y="322.2" width="17.2" height="14" fill="#00f" stroke="#000" stroke-width="2"/>
<text x="170.6" y="308.2" font-size="24.35">nMAT</text>
<text x="170.6" y="337.7" font-size="24.35">SST</text>
<text x="996.6" y="308.2" font-size="24.75" style="white-space:pre">nMAT trend: 0.01 ± 0.09  °C/10yrs</text>
<text x="996.6" y="337.7" font-size="24.75" style="white-space:pre">SST trend: 0.07 ± 0.11  °C/10yrs</text>
<g clip-path="url(#cp1)">
<polygon points="155.2,829.4 155.2,605.2 157.9,570.8 161.1,570.8 165.7,545.2 169.2,605.7 172.1,588.9 175.0,586.0 177.9,594.7 180.5,608.7 184.9,578.4 191.3,550.5 193.6,572.6 196.5,591.2 199.5,576.1 202.4,569.1 205.9,559.8 210.5,545.2 214.0,545.2 216.9,557.5 219.8,566.2 222.7,567.9 225.6,594.7 229.1,577.2 232.6,571.4 236.1,573.7 237.9,583.1 240.2,566.2 243.1,563.3 246.6,572.6 250.1,545.2 252.4,548.1 255.3,563.3 258.2,574.9 260.5,581.9 264.0,570.3 267.5,567.9 269.9,566.8 272.2,574.9 274.5,581.9 276.8,576.1 279.7,566.8 282.7,583.1 286.1,549.3 289.6,545.2 293.1,574.9 295.5,603.4 298.4,565.6 300.0,563.3 302.2,545.6 306.2,554.4 309.4,573.6 312.6,550.4 315.8,570.4 319.0,565.6 323.0,570.4 329.4,570.4 333.4,613.6 337.4,600.8 341.4,545.6 347.0,576.8 351.0,592.8 355.0,565.6 357.4,575.2 361.4,545.6 365.4,580.0 368.6,607.2 373.4,571.2 378.2,573.6 382.2,571.2 387.0,545.6 391.0,572.0 396.6,545.6 399.8,564.0 403.8,545.6 408.6,560.8 413.4,573.6 418.2,565.6 423.0,556.0 427.0,564.0 431.0,597.6 435.8,560.8 440.6,559.2 442.2,545.6 446.6,564.6 451.3,577.8 458.0,600.5 461.7,575.9 465.5,570.3 468.4,570.3 473.1,566.5 475.0,579.7 478.8,545.7 483.5,558.9 489.2,583.5 494.8,545.7 497.7,560.8 501.5,545.7 505.2,581.6 509.0,555.1 514.7,545.7 517.5,587.3 520.4,566.5 525.1,566.5 527.9,577.8 530.8,566.5 534.5,564.6 538.3,555.1 541.2,564.6 544.0,545.7 549.7,545.7 555.3,545.7 559.1,551.3 563.9,545.7 568.6,555.1 572.4,564.6 579.0,589.2 583.7,545.7 587.5,558.9 589.9,564.6 593.5,545.7 596.3,553.2 599.2,549.5 605.8,549.5 608.6,581.6 611.5,545.7 616.2,545.7 619.0,551.3 621.9,545.7 625.7,560.8 629.4,562.7 631.3,558.9 635.1,545.7 637.9,560.8 641.7,545.7 645.5,551.3 650.2,557.0 655.9,577.8 661.6,545.7 666.3,566.5 669.1,564.6 672.0,570.3 677.7,558.9 681.4,581.6 687.1,557.0 690.9,558.9 694.7,570.3 698.5,564.6 704.1,545.7 707.9,555.1 710.7,545.7 715.5,551.3 719.3,574.0 722.1,566.5 725.9,581.6 729.7,566.5 732.5,591.1 734.9,574.0 735.7,545.7 739.5,545.7 744.2,555.1 748.9,583.5 751.7,560.8 755.5,555.1 758.4,562.7 762.1,545.7 765.9,577.8 769.7,545.7 775.4,545.7 780.1,555.1 784.8,545.7 788.6,553.2 792.4,555.1 796.2,577.8 800.9,585.4 804.7,555.1 807.5,581.6 811.3,555.1 816.0,581.6 820.8,562.7 826.4,558.9 831.2,562.7 835.9,557.0 839.7,560.8 843.5,587.3 847.2,555.1 851.0,568.4 854.8,589.2 857.6,575.9 860.5,577.8 863.3,589.2 866.1,572.1 870.9,583.5 875.6,553.2 879.9,555.1 883.5,551.3 887.3,594.8 890.1,589.2 893.0,602.4 895.8,545.7 898.6,566.5 901.5,545.7 905.3,551.3 909.0,549.5 912.8,545.7 916.6,551.3 919.4,591.1 922.3,575.9 925.1,577.8 928.9,604.3 931.7,572.1 934.6,577.8 937.4,579.7 940.2,574.0 945.0,545.7 948.7,566.5 951.6,545.7 955.4,577.8 958.2,566.5 961.0,575.9 963.9,572.1 967.7,574.0 970.5,568.4 973.3,551.3 979.0,549.5 983.7,545.7 996.0,545.7 999.8,551.3 1003.6,549.5 1007.4,562.7 1011.1,575.9 1014.9,613.7 1018.7,570.3 1022.5,555.1 1024.9,555.1 1025.7,564.6 1029.5,557.0 1033.2,545.7 1037.0,551.3 1040.8,558.9 1044.6,572.1 1048.4,545.7 1055.0,545.7 1057.8,555.1 1061.6,551.3 1066.3,545.7 1071.1,545.7 1076.7,566.5 1080.5,555.1 1085.2,545.7 1095.6,545.7 1097.5,551.3 1101.3,545.7 1112.7,545.7 1118.3,566.5 1122.1,583.5 1127.8,545.7 1131.6,551.3 1135.3,570.3 1139.1,560.8 1144.8,560.8 1150.5,545.7 1153.3,555.1 1156.1,545.7 1159.9,575.9 1161.8,623.2 1165.6,572.1 1169.9,566.5 1173.5,566.5 1176.3,562.7 1180.1,545.7 1183.0,558.9 1185.8,555.1 1189.6,564.6 1193.4,570.3 1202.8,570.3 1205.7,562.7 1209.4,545.7 1212.3,562.7 1215.1,581.6 1217.9,566.5 1222.7,566.5 1225.5,621.3 1228.3,589.2 1232.1,566.5 1235.0,587.3 1237.8,591.1 1241.6,560.8 1245.4,575.9 1249.1,591.1 1252.0,575.9 1254.8,587.3 1257.7,566.5 1260.5,589.2 1263.3,611.9 1268.1,587.3 1270.9,619.4 1274.7,649.7 1277.5,604.3 1280.3,566.5 1284.1,574.0 1287.9,579.7 1292.6,587.3 1297.4,545.7 1301.1,560.8 1304.9,585.4 1307.8,558.9 1312.5,545.7 1316.3,566.5 1320.1,551.3 1322.9,568.4 1326.7,551.3 1329.5,574.0 1332.3,564.6 1336.1,568.4 1339.9,583.5 1339.9,829.4" fill="#add8e6"/>
<polygon points="155.2,829.4 155.2,644.7 158.7,606.9 161.6,631.9 165.1,576.1 167.5,609.8 169.2,644.7 172.1,614.5 175.0,612.1 177.9,621.5 181.4,602.8 183.7,619.1 186.1,644.7 188.4,616.8 191.3,661.0 194.2,621.5 196.5,600.5 198.9,614.5 201.8,566.2 204.7,605.2 207.0,614.5 211.7,591.2 214.6,631.9 218.7,605.2 221.0,609.8 224.5,628.4 227.4,656.4 231.5,636.6 236.1,628.4 239.6,631.9 243.1,623.8 246.6,641.2 250.1,586.5 252.4,605.2 255.9,628.4 260.5,631.9 264.6,647.1 267.5,604.0 269.9,576.1 272.2,605.2 275.1,644.7 278.0,640.1 281.5,633.1 285.0,636.6 289.6,642.4 294.3,656.4 297.2,604.0 300.0,595.9 302.2,581.6 307.0,581.6 311.0,644.0 315.0,596.0 319.8,596.0 323.8,607.2 327.0,616.8 329.4,616.8 334.2,680.8 337.4,626.4 341.4,571.2 346.2,618.4 350.2,634.4 354.2,578.4 358.2,575.2 362.2,589.6 366.2,613.6 369.4,644.0 373.4,639.2 376.6,650.4 380.6,581.6 383.0,616.8 387.0,592.8 391.0,578.4 394.2,613.6 399.0,607.2 402.2,620.0 407.0,604.0 411.8,596.0 416.6,581.6 421.4,613.6 423.0,592.8 427.0,652.0 431.8,592.8 435.8,591.2 440.6,600.8 443.0,560.8 445.7,579.7 449.5,574.0 453.2,596.7 458.0,653.5 462.7,600.5 468.4,613.7 471.2,615.6 475.0,634.5 477.8,600.5 482.5,560.8 487.3,645.9 491.1,600.5 494.8,570.3 498.6,623.2 501.5,575.9 505.2,625.1 508.1,602.4 510.9,628.9 514.7,555.1 518.5,634.5 521.3,608.1 525.1,611.9 528.9,608.1 534.5,636.4 538.3,602.4 543.1,600.5 547.8,560.8 551.6,615.6 557.2,591.1 561.0,610.0 564.8,581.6 570.5,606.2 576.1,645.9 580.9,602.4 585.6,623.2 589.9,623.2 593.5,623.2 596.3,611.9 599.2,570.3 602.0,645.9 605.8,600.5 608.6,645.9 612.4,600.5 615.3,645.9 619.0,600.5 622.8,645.9 625.7,632.7 629.4,638.3 634.2,627.0 639.8,627.0 644.6,591.1 649.3,591.1 653.1,645.9 658.7,638.3 664.4,611.9 668.2,661.0 672.0,647.8 677.7,662.9 683.3,649.7 687.1,645.9 689.9,623.2 692.8,634.5 696.6,664.8 702.2,642.1 706.0,611.9 710.7,611.9 715.5,623.2 719.3,653.5 723.0,627.0 725.9,611.9 729.7,653.5 732.5,662.9 734.9,661.0 738.5,672.4 743.2,662.9 748.9,681.8 755.5,632.7 759.3,679.9 762.1,608.1 765.9,672.4 771.6,653.5 775.4,681.8 781.1,617.5 784.8,662.9 790.0,649.0 798.7,637.5 800.5,656.7 804.0,637.5 805.7,652.0 808.3,677.0 810.0,692.0 812.0,696.0 814.5,680.0 816.0,654.0 819.7,641.0 823.0,649.0 825.0,670.0 826.7,661.0 829.3,654.0 832.0,652.0 834.5,656.0 836.3,651.5 839.0,652.0 841.5,656.0 843.2,670.0 844.0,687.0 846.7,661.0 851.0,635.0 855.5,627.0 859.0,652.0 860.7,670.0 864.2,669.0 866.8,669.0 869.4,670.0 872.0,643.6 876.4,617.5 880.0,622.0 882.6,632.7 886.3,642.1 890.1,653.5 893.0,674.3 895.8,623.2 898.6,662.9 903.4,611.9 907.1,642.1 910.9,659.1 914.7,661.0 918.5,685.6 922.3,687.5 926.1,672.4 931.7,676.1 937.4,672.4 943.1,683.7 946.9,676.1 951.6,642.1 954.4,672.4 960.1,683.7 964.8,653.5 969.5,710.2 973.3,714.0 978.1,687.5 982.8,668.6 984.7,647.8 988.5,683.7 992.2,672.4 997.9,661.0 1000.7,647.8 1005.5,653.5 1009.3,672.4 1014.0,681.8 1018.7,649.7 1021.5,645.9 1024.9,653.5 1028.5,642.1 1031.3,653.5 1035.1,672.4 1038.9,683.7 1042.7,691.3 1046.5,687.5 1050.3,691.3 1054.0,700.7 1057.8,710.2 1059.7,732.9 1063.5,695.1 1069.2,698.8 1074.8,702.6 1078.6,695.1 1084.3,702.6 1090.0,736.7 1093.7,695.1 1099.4,700.7 1103.2,687.5 1108.9,710.2 1114.5,691.3 1118.3,710.2 1122.1,736.7 1125.9,700.7 1129.7,691.3 1135.3,710.2 1141.0,706.4 1144.8,672.4 1150.5,659.1 1156.1,662.9 1159.9,691.3 1161.8,761.2 1165.6,672.4 1169.9,662.9 1172.6,725.3 1176.3,683.7 1179.2,672.4 1183.0,715.9 1185.8,702.6 1189.6,698.8 1193.4,710.2 1197.1,695.1 1200.9,672.4 1205.7,672.4 1210.4,725.3 1214.2,736.7 1219.8,729.1 1225.5,721.5 1231.2,727.2 1236.9,729.1 1242.5,721.5 1248.2,706.4 1253.9,710.2 1259.5,706.4 1263.3,732.9 1266.2,770.7 1269.9,731.0 1273.7,755.6 1278.5,732.9 1283.2,744.2 1287.9,731.0 1291.7,748.0 1295.5,729.1 1299.3,766.9 1303.0,729.1 1308.7,738.5 1314.4,736.7 1319.1,772.6 1322.9,738.5 1327.6,736.7 1331.4,748.0 1335.2,740.4 1339.9,742.3 1339.9,829.4" fill="#ffc0cb"/>
<polyline points="155.3,669.8 159.2,653.0 163.7,659.1 168.3,669.8 174.4,650.0 179.0,662.2 183.6,672.9 188.2,672.9 192.8,665.2 197.3,650.0 201.9,662.2 206.5,674.4 211.1,671.3 215.7,662.2 221.8,650.0 224.8,637.7 227.9,646.9 230.9,640.8 234.0,625.5 237.1,611.8 240.1,598.0 244.7,593.5 247.7,596.5 250.8,610.3 253.9,628.6 256.9,625.5 260.0,613.3 263.0,576.7 266.1,570.5 269.1,585.8 270.7,604.1 272.2,624.0 275.2,637.7 278.3,650.0 281.3,662.2 284.4,671.3 289.0,671.3 293.6,668.3 298.1,674.4 304.6,684.0 309.4,687.2 314.2,677.6 319.0,687.2 322.2,688.8 327.0,672.8 331.8,685.6 336.6,687.2 341.4,680.8 346.2,676.0 350.2,668.0 354.2,671.2 359.0,677.6 363.8,669.6 368.6,672.8 375.0,669.6 381.4,668.0 387.8,666.4 391.0,648.8 397.4,642.4 402.2,642.4 407.0,639.2 411.8,642.4 416.6,644.0 421.4,636.0 426.2,634.4 431.0,632.8 435.8,634.4 439.0,642.4 442.2,644.0 447.6,657.2 453.2,674.3 458.9,681.8 464.6,689.4 470.3,695.1 475.9,693.2 481.6,691.3 487.3,695.1 492.9,689.4 498.6,681.8 504.3,676.1 510.0,679.9 515.6,674.3 519.4,664.8 527.0,661.0 532.7,666.7 538.3,670.5 544.0,668.6 549.7,662.9 553.5,662.9 559.1,647.8 562.9,661.0 568.6,653.5 570.5,636.4 574.3,657.2 579.9,657.2 585.6,653.5 589.9,651.6 593.5,640.2 599.2,638.3 605.8,647.8 611.5,630.8 615.3,651.6 620.9,661.0 626.6,664.8 632.3,664.8 636.1,640.2 639.8,661.0 645.5,657.2 651.2,638.3 655.0,625.1 658.7,642.1 662.5,653.5 666.3,649.7 672.0,653.5 675.8,661.0 681.4,670.5 689.0,666.7 694.7,664.8 700.3,657.2 704.1,649.7 709.8,642.1 715.5,638.3 719.3,649.7 724.9,661.0 728.7,666.7 732.5,662.9 734.9,661.0 735.7,668.6 741.3,672.4 747.0,678.0 752.7,670.5 758.4,678.0 764.0,681.8 769.7,679.9 775.4,678.0 781.1,676.1 786.7,683.7 792.4,681.8 796.2,676.1 800.0,672.4 805.6,661.0 809.4,644.0 811.3,619.4 813.2,587.3 817.0,558.9 819.8,553.2 822.7,562.7 826.4,557.0 830.2,558.9 833.1,568.4 834.9,585.4 836.8,598.6 838.7,615.6 841.6,625.1 845.3,634.5 851.0,640.2 852.9,657.2 856.7,662.9 862.4,670.5 866.1,676.1 871.8,679.9 876.5,691.3 879.9,691.3 882.6,678.0 888.2,687.5 893.9,685.6 899.6,685.6 905.3,681.8 910.9,685.6 916.6,683.7 922.3,670.5 927.0,668.6 931.7,683.7 935.5,674.3 941.2,676.1 946.9,672.4 952.5,670.5 958.2,676.1 962.0,662.9 967.7,672.4 973.3,668.6 979.0,662.9 984.7,653.5 990.3,657.2 996.0,653.5 999.8,659.1 1005.5,651.6 1011.1,636.4 1015.9,649.7 1020.6,630.8 1024.9,628.9 1027.6,634.5 1033.2,640.2 1038.0,649.7 1042.7,657.2 1047.4,670.5 1052.1,672.4 1057.8,661.0 1063.5,655.3 1068.2,647.8 1072.0,649.7 1076.7,662.9 1081.5,664.8 1086.2,659.1 1090.9,655.3 1094.7,638.3 1097.5,649.7 1101.3,657.2 1107.0,657.2 1112.7,644.0 1118.3,655.3 1124.0,662.9 1128.7,655.3 1133.5,668.6 1139.1,668.6 1144.8,672.4 1150.5,670.5 1154.3,664.8 1158.0,662.9 1163.7,651.6 1169.9,661.0 1172.6,638.3 1176.3,636.4 1180.1,625.1 1183.0,594.8 1184.9,634.5 1187.7,661.0 1192.4,661.0 1197.1,672.4 1202.8,666.7 1205.7,653.5 1209.4,670.5 1214.2,678.0 1218.9,687.5 1223.6,685.6 1228.3,679.9 1233.1,668.6 1237.8,653.5 1242.5,644.0 1246.3,638.3 1250.1,645.9 1253.9,653.5 1259.5,661.0 1263.3,651.6 1268.1,662.9 1272.8,672.4 1278.5,655.3 1284.1,645.9 1287.9,638.3 1291.7,634.5 1295.5,621.3 1299.3,625.1 1303.0,627.0 1306.8,638.3 1310.6,649.7 1314.4,657.2 1318.2,661.0 1321.9,668.6 1325.7,649.7 1328.6,662.9 1331.4,691.3 1335.2,696.9 1339.9,698.8" fill="none" stroke="#f00" stroke-width="2" stroke-linejoin="round" stroke-linecap="round" stroke-dasharray="6.6 11.9"/>
<polyline points="155.3,706.5 159.2,714.1 163.7,714.1 168.3,718.7 172.9,724.8 177.5,715.6 182.1,708.0 186.7,711.1 191.2,726.3 195.8,723.3 200.4,720.2 205.0,726.3 209.6,715.6 214.1,708.0 218.7,703.4 223.3,691.2 226.4,697.3 230.9,698.8 235.5,703.4 240.1,701.9 244.7,704.9 249.3,708.0 253.9,709.5 258.4,698.8 263.0,701.9 267.6,714.1 272.2,720.2 273.7,737.0 278.3,729.4 282.9,723.3 287.5,726.3 292.0,726.3 296.6,730.9 304.6,733.6 311.0,722.4 315.8,735.2 320.6,733.6 325.4,730.4 330.2,724.0 335.0,730.4 339.8,732.0 344.6,736.8 349.4,738.4 354.2,725.6 359.0,716.0 363.8,716.0 368.6,709.6 373.4,706.4 378.2,712.8 383.0,709.6 387.8,716.0 391.0,698.4 397.4,700.0 403.8,703.2 407.0,693.6 411.8,693.6 416.6,703.2 421.4,696.8 427.8,700.0 432.6,704.8 437.4,700.0 442.2,701.6 445.7,702.6 449.5,714.0 452.3,731.0 455.1,757.5 458.9,759.3 463.6,761.2 468.4,746.1 472.1,748.0 475.9,757.5 479.7,759.3 482.5,768.8 485.4,748.0 489.2,734.8 494.8,725.3 500.5,717.7 506.2,712.1 511.9,712.1 519.4,710.2 523.2,710.2 528.9,704.5 534.5,708.3 540.2,714.0 545.9,708.3 551.6,714.0 557.2,715.9 562.9,708.3 568.6,706.4 572.4,696.9 578.0,687.5 583.7,698.8 589.9,704.5 594.5,696.9 600.1,706.4 605.8,712.1 611.5,706.4 617.1,702.6 622.8,714.0 628.5,710.2 634.2,712.1 639.8,702.6 643.6,710.2 649.3,695.1 655.0,706.4 660.6,715.9 666.3,706.4 672.0,696.9 677.7,708.3 683.3,714.0 688.1,719.6 692.8,704.5 698.5,708.3 702.2,710.2 707.9,698.8 713.6,695.1 719.3,691.3 724.9,700.7 728.7,729.1 732.5,732.9 734.9,729.1 735.7,721.5 741.3,717.7 747.0,738.5 750.8,721.5 756.5,725.3 762.1,729.1 765.9,744.2 769.7,734.8 775.4,725.3 781.1,717.7 786.7,732.9 792.4,729.1 796.2,719.6 800.0,710.2 803.7,702.6 807.5,698.8 813.2,698.8 818.9,698.8 824.5,698.8 830.2,689.4 835.9,693.2 841.6,702.6 845.3,712.1 849.1,725.3 852.9,740.4 856.7,751.8 862.4,738.5 866.1,731.0 869.9,736.7 873.7,748.0 877.5,740.4 879.9,734.8 882.6,729.1 888.2,719.6 893.9,727.2 899.6,731.0 905.3,740.4 909.0,744.2 914.7,748.0 918.5,732.9 922.3,719.6 927.9,710.2 933.6,715.9 939.3,706.4 945.0,712.1 950.6,717.7 956.3,706.4 962.0,704.5 967.7,708.3 973.3,714.0 979.0,729.1 981.8,742.3 986.6,719.6 992.2,706.4 997.9,696.9 1003.6,696.9 1009.3,695.1 1014.9,712.1 1018.7,696.9 1024.9,691.3 1025.7,693.2 1031.3,695.1 1036.1,704.5 1039.9,714.0 1042.7,736.7 1046.5,721.5 1051.2,710.2 1055.9,698.8 1061.6,695.1 1065.4,696.9 1070.1,693.2 1074.8,700.7 1078.6,706.4 1082.4,723.4 1087.1,717.7 1091.9,727.2 1095.6,710.2 1099.4,702.6 1103.2,691.3 1108.9,696.9 1112.7,695.1 1117.4,698.8 1122.1,695.1 1126.8,696.9 1131.6,700.7 1136.3,708.3 1141.0,721.5 1144.8,715.9 1149.5,727.2 1153.3,746.1 1156.1,721.5 1160.9,706.4 1165.6,702.6 1169.9,700.7 1173.5,685.6 1178.2,687.5 1183.0,689.4 1186.7,702.6 1191.5,714.0 1196.2,729.1 1200.9,744.2 1204.7,748.0 1209.4,744.2 1213.2,738.5 1217.9,740.4 1221.7,734.8 1225.5,749.9 1230.2,753.7 1235.0,732.9 1239.7,719.6 1244.4,714.0 1250.1,706.4 1254.8,710.2 1259.5,715.9 1263.3,717.7 1268.1,729.1 1271.8,740.4 1276.6,721.5 1280.3,708.3 1286.0,695.1 1291.7,687.5 1296.4,696.9 1301.1,706.4 1304.9,708.3 1308.7,715.9 1314.4,731.0 1320.1,736.7 1325.7,744.2 1330.5,742.3 1336.1,751.8 1339.9,761.2" fill="none" stroke="#f00" stroke-width="2" stroke-linejoin="round" stroke-linecap="round" stroke-dasharray="6.6 11.9"/>
<polyline points="155.3,672.9 159.2,669.8 165.3,668.3 169.9,672.9 174.4,660.7 177.5,656.1 182.1,677.5 185.1,679.0 189.7,672.9 194.3,666.8 198.9,669.8 203.5,666.8 208.0,659.1 212.6,668.3 217.2,663.7 221.8,653.0 226.4,646.9 229.4,648.4 232.5,634.7 234.0,613.3 237.1,607.2 240.1,598.0 243.2,575.1 246.2,564.4 247.7,556.8 249.3,575.1 250.8,590.4 253.9,607.2 256.9,607.2 260.0,604.1 263.0,579.7 266.1,581.2 269.1,601.1 270.7,624.0 273.7,639.3 276.8,654.5 279.8,666.8 284.4,672.9 289.0,671.3 293.6,677.5 299.7,683.6 304.6,685.6 311.0,687.2 315.8,680.8 320.6,679.2 325.4,685.6 330.2,690.4 336.6,692.0 343.0,685.6 347.8,677.6 351.0,674.4 355.8,679.2 360.6,672.8 365.4,672.8 371.8,671.2 376.6,671.2 381.4,671.2 386.2,669.6 389.4,656.8 392.6,648.8 397.4,647.2 403.8,644.0 410.2,637.6 416.6,636.0 423.0,634.4 429.4,632.8 434.2,632.8 437.4,640.8 440.6,645.6 445.7,661.0 451.3,674.3 457.0,685.6 462.7,689.4 468.4,691.3 474.0,695.1 479.7,698.8 485.4,696.9 490.1,693.2 494.8,683.7 500.5,676.1 502.4,668.6 506.2,685.6 511.9,681.8 517.5,676.1 523.2,664.8 527.0,662.9 532.7,664.8 538.3,666.7 544.0,670.5 549.7,662.9 555.3,655.3 559.1,645.9 564.8,657.2 570.5,655.3 576.1,649.7 580.9,645.9 585.6,655.3 589.9,644.0 594.5,638.3 598.2,623.2 602.0,615.6 604.9,627.0 609.6,636.4 614.3,642.1 618.1,655.3 622.8,664.8 628.5,664.8 634.2,653.5 638.9,657.2 643.6,664.8 647.4,657.2 651.2,642.1 655.0,651.6 660.6,662.9 666.3,664.8 672.0,668.6 677.7,664.8 683.3,670.5 689.0,668.6 694.7,662.9 698.5,645.9 702.2,642.1 707.9,640.2 713.6,628.9 717.4,638.3 721.1,645.9 724.9,664.8 728.7,668.6 734.9,670.5 735.7,674.3 741.3,683.7 747.0,676.1 752.7,674.3 756.5,666.7 762.1,679.9 767.8,687.5 773.5,679.9 779.2,674.3 784.8,678.0 790.5,674.3 794.3,670.5 798.1,664.8 801.9,655.3 805.6,642.1 809.4,630.8 811.3,608.1 814.1,592.9 817.0,570.3 820.8,560.8 824.5,558.9 830.2,551.3 834.0,562.7 837.8,587.3 841.6,596.7 845.3,608.1 849.1,613.7 852.9,625.1 855.7,645.9 858.6,653.5 862.4,662.9 866.1,672.4 869.9,679.9 873.7,679.9 877.5,687.5 879.9,689.4 882.6,683.7 886.3,689.4 892.0,679.9 897.7,689.4 903.4,695.1 909.0,693.2 914.7,685.6 920.4,679.9 926.1,670.5 931.7,678.0 935.5,674.3 941.2,683.7 946.9,679.9 952.5,679.9 958.2,672.4 963.9,674.3 969.5,672.4 975.2,664.8 980.9,661.0 986.6,664.8 992.2,664.8 997.9,662.9 1003.6,661.0 1007.4,649.7 1011.1,649.7 1014.9,653.5 1018.7,638.3 1022.5,628.9 1024.9,630.8 1029.5,634.5 1033.2,644.0 1037.0,655.3 1042.7,670.5 1048.4,668.6 1052.1,661.0 1056.9,662.9 1061.6,655.3 1066.3,661.0 1070.1,653.5 1073.9,661.0 1077.7,670.5 1082.4,672.4 1087.1,664.8 1091.9,657.2 1097.5,655.3 1103.2,653.5 1108.9,651.6 1114.5,655.3 1118.3,661.0 1123.1,649.7 1125.9,653.5 1129.7,662.9 1133.5,666.7 1139.1,668.6 1144.8,670.5 1150.5,672.4 1155.2,679.9 1159.9,685.6 1165.6,672.4 1169.9,662.9 1173.5,638.3 1177.3,628.9 1182.0,638.3 1185.8,651.6 1191.5,662.9 1195.3,670.5 1200.9,672.4 1205.7,674.3 1210.4,676.1 1215.1,681.8 1219.8,683.7 1223.6,689.4 1227.4,683.7 1232.1,676.1 1236.9,664.8 1241.6,655.3 1246.3,649.7 1251.0,647.8 1255.8,649.7 1259.5,657.2 1263.3,662.9 1267.1,653.5 1270.9,662.9 1275.6,661.0 1280.3,653.5 1286.0,642.1 1291.7,645.9 1297.4,632.7 1301.1,625.1 1304.9,625.1 1308.7,640.2 1312.5,653.5 1316.3,661.0 1320.1,666.7 1323.8,674.3 1327.6,689.4 1331.4,695.1 1336.1,689.4 1339.9,683.7" fill="none" stroke="#00f" stroke-width="2" stroke-linejoin="round" stroke-linecap="round" stroke-dasharray="0.1 9 7 9"/>
<polyline points="155.3,712.6 159.2,712.6 163.7,701.9 168.3,723.3 172.9,729.4 177.5,718.7 182.1,712.6 186.7,712.6 191.2,721.7 195.8,718.7 200.4,717.2 205.0,717.2 208.0,718.7 211.1,714.1 215.7,706.5 218.7,701.9 223.3,694.3 227.9,703.4 230.9,711.1 235.5,708.0 240.1,704.9 244.7,706.5 249.3,709.5 253.9,709.5 258.4,704.9 263.0,701.9 267.6,708.0 270.7,712.6 273.7,717.2 278.3,721.7 282.9,726.3 287.5,729.4 292.0,723.3 296.6,724.8 301.4,738.4 306.2,730.4 311.0,716.0 315.8,725.6 320.6,735.2 327.0,746.4 331.8,740.0 336.6,743.2 343.0,744.8 347.8,738.4 352.6,736.8 357.4,727.2 362.2,732.0 365.4,724.0 370.2,717.6 375.0,716.0 379.8,716.0 384.6,709.6 389.4,704.8 394.2,706.4 399.0,716.0 405.4,716.0 410.2,709.6 415.0,716.0 419.8,709.6 424.6,706.4 429.4,703.2 434.2,700.0 439.0,700.0 449.5,702.6 452.3,719.6 454.2,748.0 456.1,772.6 460.8,763.1 466.5,761.2 469.3,734.8 471.2,765.0 475.0,782.0 478.8,776.4 483.5,768.8 486.3,742.3 489.2,734.8 494.8,729.1 498.6,727.2 504.3,714.0 510.0,710.2 514.7,719.6 517.5,727.2 521.3,714.0 524.1,702.6 530.8,702.6 536.4,698.8 542.1,706.4 547.8,702.6 553.5,710.2 557.2,714.0 562.9,706.4 568.6,704.5 572.4,695.1 578.0,687.5 583.7,695.1 589.9,702.6 590.7,691.3 594.5,700.7 599.2,710.2 603.9,702.6 609.6,695.1 614.3,702.6 620.9,704.5 626.6,702.6 630.4,708.3 634.2,721.5 635.1,732.9 637.9,710.2 643.6,704.5 649.3,698.8 655.0,706.4 660.6,698.8 666.3,696.9 671.0,691.3 675.8,700.7 681.4,710.2 684.3,725.3 689.0,710.2 694.7,706.4 700.3,715.9 704.1,704.5 709.8,691.3 715.5,689.4 721.1,693.2 724.9,704.5 728.7,719.6 734.9,706.4 735.7,714.0 741.3,715.9 747.0,721.5 750.8,719.6 756.5,725.3 762.1,721.5 765.9,732.9 769.7,729.1 775.4,721.5 781.1,715.9 786.7,715.9 790.5,723.4 796.2,729.1 800.0,721.5 803.7,704.5 807.5,693.2 811.3,695.1 815.1,704.5 818.9,714.0 822.7,704.5 826.4,698.8 832.1,695.1 835.9,704.5 839.7,706.4 843.5,700.7 847.2,702.6 849.1,719.6 852.0,731.0 856.7,738.5 862.4,744.2 866.1,749.9 869.9,755.6 873.7,768.8 877.5,748.0 879.9,742.3 884.5,734.8 890.1,727.2 895.8,736.7 901.5,744.2 906.2,753.7 910.9,744.2 916.6,736.7 922.3,729.1 927.9,721.5 933.6,710.2 939.3,714.0 945.0,721.5 948.7,734.8 954.4,721.5 960.1,706.4 963.9,700.7 969.5,700.7 973.3,706.4 978.1,717.7 982.8,721.5 986.6,714.0 992.2,704.5 997.9,696.9 1003.6,691.3 1009.3,689.4 1014.9,685.6 1020.6,691.3 1024.9,689.4 1025.7,695.1 1031.3,691.3 1036.1,706.4 1039.9,717.7 1042.7,727.2 1046.5,717.7 1049.3,704.5 1054.0,695.1 1059.7,691.3 1065.4,689.4 1070.1,691.3 1074.8,695.1 1078.6,704.5 1082.4,714.0 1087.1,710.2 1091.9,712.1 1096.6,702.6 1101.3,689.4 1105.1,683.7 1108.9,693.2 1112.7,700.7 1118.3,695.1 1123.1,691.3 1127.8,689.4 1132.5,696.9 1135.3,710.2 1139.1,721.5 1142.9,742.3 1146.7,729.1 1150.5,721.5 1155.2,734.8 1159.9,710.2 1164.7,698.8 1169.9,693.2 1173.5,685.6 1178.2,683.7 1183.0,683.7 1187.7,691.3 1191.5,706.4 1195.3,721.5 1200.0,731.0 1204.7,732.9 1209.4,736.7 1214.2,744.2 1218.9,751.8 1223.6,757.5 1227.4,748.0 1232.1,744.2 1236.9,731.0 1241.6,721.5 1246.3,710.2 1252.0,714.0 1257.7,717.7 1261.4,721.5 1265.2,740.4 1269.0,725.3 1272.8,715.9 1277.5,702.6 1282.2,693.2 1287.9,683.7 1293.6,679.9 1299.3,685.6 1304.9,687.5 1310.6,695.1 1316.3,702.6 1321.0,712.1 1325.7,729.1 1329.5,740.4 1334.2,751.8 1339.9,751.8" fill="none" stroke="#00f" stroke-width="2" stroke-linejoin="round" stroke-linecap="round" stroke-dasharray="0.1 9 7 9"/>
<polyline points="155.3,686.6 157.6,685.1 159.9,687.4 163.0,685.1 165.3,683.6 168.3,692.7 171.4,692.7 174.4,691.2 179.0,691.2 182.8,692.7 186.7,695.8 189.7,698.8 192.8,695.8 195.8,692.7 198.9,691.2 201.9,692.7 205.0,698.8 208.0,692.7 211.1,691.2 215.7,688.1 218.7,679.0 221.8,674.4 224.8,671.3 227.9,677.5 230.9,671.3 234.0,662.2 237.8,657.6 241.6,653.0 246.2,646.9 249.3,656.1 252.3,662.2 255.4,666.8 258.4,665.2 261.5,662.2 264.5,659.1 269.1,663.7 272.2,674.4 275.2,686.6 278.3,692.7 281.3,691.2 284.4,694.3 287.5,697.3 290.5,695.8 293.6,698.8 296.6,701.9 303.8,706.4 307.8,703.2 312.6,701.6 317.4,704.8 320.6,706.4 323.0,711.2 327.0,704.8 333.4,704.8 338.2,704.8 343.0,704.8 347.8,698.4 352.6,696.8 357.4,695.2 362.2,693.6 365.4,690.4 370.2,690.4 375.0,692.0 379.8,687.2 384.6,687.2 389.4,685.6 392.6,668.0 397.4,671.2 402.2,672.8 407.0,669.6 411.8,668.0 418.2,668.0 423.0,666.4 427.8,661.6 432.6,658.4 435.8,658.4 439.0,663.2 442.2,666.4 449.5,674.3 452.3,689.4 455.1,706.4 458.9,714.0 463.6,719.6 468.4,717.7 473.1,727.2 477.8,723.4 481.6,731.0 485.4,717.7 491.1,710.2 496.7,702.6 502.4,698.8 508.1,696.9 513.7,695.1 519.4,689.4 524.1,681.8 528.9,683.7 534.5,679.9 538.3,685.6 543.1,689.4 547.8,685.6 553.5,683.7 559.1,678.0 564.8,678.0 570.5,668.6 576.1,666.7 579.9,664.8 583.7,676.1 587.5,676.1 589.9,672.4 594.5,666.7 599.2,670.5 603.9,672.4 608.6,668.6 613.4,668.6 617.1,678.0 621.9,687.5 625.7,693.2 630.4,695.1 634.2,689.4 638.9,683.7 643.6,681.8 647.4,678.0 652.1,672.4 656.9,672.4 662.5,678.0 668.2,678.0 673.9,676.1 679.5,683.7 685.2,687.5 690.9,683.7 696.6,687.5 700.3,691.3 704.1,683.7 709.8,670.5 715.5,672.4 721.1,676.1 725.9,687.5 730.6,695.1 734.9,695.1 739.5,702.6 745.1,708.3 748.9,706.4 753.6,702.6 758.4,706.4 764.0,708.3 769.7,702.6 775.4,700.7 781.1,698.8 786.7,702.6 792.4,704.5 797.1,704.5 801.9,696.9 805.6,683.7 811.3,668.6 814.1,634.5 818.9,642.1 822.7,645.9 826.4,636.4 830.2,630.8 834.0,642.1 838.7,653.5 843.5,674.3 847.2,676.1 851.0,691.3 854.8,704.5 858.6,706.4 862.4,704.5 866.1,700.7 869.9,706.4 873.7,715.9 877.5,714.0 879.9,710.2 883.5,702.6 889.2,700.7 893.9,704.5 898.6,710.2 903.4,714.0 908.1,715.9 912.8,717.7 916.6,710.2 920.4,696.9 924.2,687.5 928.9,691.3 933.6,691.3 937.4,695.1 942.1,691.3 946.9,696.9 950.6,691.3 956.3,689.4 961.0,683.7 965.8,687.5 970.5,689.4 974.3,695.1 979.0,696.9 983.7,695.1 988.5,691.3 993.2,685.6 997.9,678.0 1003.6,674.3 1009.3,676.1 1013.0,676.1 1016.8,668.6 1020.6,664.8 1024.9,662.9 1029.5,666.7 1034.2,672.4 1038.9,683.7 1042.7,696.9 1048.4,679.9 1053.1,683.7 1057.8,676.1 1063.5,678.0 1069.2,678.0 1073.9,674.3 1078.6,685.6 1082.4,691.3 1087.1,685.6 1091.9,679.9 1097.5,676.1 1103.2,672.4 1107.0,670.5 1111.7,676.1 1116.4,672.4 1122.1,674.3 1127.8,679.9 1133.5,691.3 1139.1,695.1 1143.9,700.7 1148.6,696.9 1153.3,706.4 1157.1,698.8 1161.8,685.6 1166.5,678.0 1169.9,676.1 1174.5,662.9 1180.1,657.2 1183.9,661.0 1187.7,679.9 1191.5,689.4 1196.2,691.3 1200.0,702.6 1204.7,696.9 1210.4,710.2 1215.1,719.6 1218.9,706.4 1221.7,717.7 1225.5,719.6 1230.2,712.1 1235.0,706.4 1240.6,695.1 1245.4,678.0 1249.1,679.9 1252.9,676.1 1257.7,689.4 1261.4,693.2 1265.2,679.9 1269.0,702.6 1272.8,704.5 1276.6,691.3 1281.3,676.1 1287.0,668.6 1291.7,664.8 1296.4,661.0 1301.1,664.8 1305.9,676.1 1310.6,683.7 1314.4,691.3 1318.2,696.9 1321.9,704.5 1326.7,710.2 1331.4,714.0 1335.2,719.6 1339.9,729.1" fill="none" stroke="#f00" stroke-width="5.5" stroke-linejoin="round" stroke-linecap="round"/>
<polyline points="155.3,692.0 157.6,694.3 159.9,695.0 162.2,690.4 165.3,689.7 168.3,704.2 171.4,701.9 174.4,696.5 177.5,700.4 180.5,702.7 182.8,698.8 185.9,698.1 188.9,706.5 191.2,704.9 194.3,697.3 197.3,695.0 200.4,698.1 203.5,689.7 205.7,688.9 208.8,691.2 212.6,692.0 215.7,689.7 218.7,680.5 221.8,674.4 224.8,669.8 227.9,674.4 230.9,675.9 234.0,665.2 237.1,656.1 241.6,650.0 244.7,646.9 247.0,642.3 249.3,648.4 252.3,656.1 256.1,663.7 259.2,663.7 262.3,659.1 264.5,659.1 267.6,668.3 270.7,677.5 273.7,686.6 276.8,697.3 279.8,704.2 282.9,698.8 285.9,703.4 289.0,695.8 292.0,697.3 296.6,701.9 302.2,711.2 306.2,704.8 309.4,706.4 312.6,700.8 316.6,706.4 319.0,709.6 323.0,717.6 327.0,715.2 331.0,713.6 335.0,714.4 339.0,716.0 343.0,712.0 347.8,707.2 352.6,704.0 356.6,704.8 360.6,703.2 365.4,701.6 368.6,692.8 371.8,692.0 375.0,698.4 378.2,697.6 382.2,692.0 386.2,689.6 389.4,687.2 391.8,677.6 395.8,674.4 400.6,679.2 405.4,674.4 410.2,672.8 415.0,676.0 418.2,672.8 423.0,669.6 427.8,664.8 432.6,661.6 435.8,658.4 439.0,661.6 442.2,666.4 447.6,679.9 451.3,689.4 455.1,710.2 458.9,717.7 462.7,727.2 465.5,719.6 469.3,712.1 473.1,732.9 477.8,734.8 482.5,735.7 485.4,719.6 490.1,715.9 494.8,706.4 500.5,702.6 505.2,702.6 510.0,696.9 515.6,700.7 519.4,695.1 524.1,683.7 528.9,685.6 534.5,685.6 540.2,685.6 545.9,683.7 551.6,685.6 555.3,683.7 561.0,678.0 566.7,683.7 570.5,679.9 575.2,670.5 579.9,666.7 585.6,672.4 589.9,670.5 593.5,662.9 597.3,661.0 601.1,661.0 603.9,661.0 606.7,666.7 609.6,660.1 613.4,662.9 617.1,670.5 620.9,679.9 624.7,685.6 629.4,685.6 634.2,687.5 638.9,681.8 642.7,679.9 647.4,676.1 652.1,670.5 655.9,676.1 660.6,679.9 666.3,679.9 672.0,678.0 677.7,681.8 681.4,687.5 687.1,687.5 692.8,685.6 698.5,681.8 704.1,678.0 707.9,668.6 713.6,663.9 719.3,666.7 724.9,676.1 729.7,687.5 734.9,685.6 737.6,693.2 741.3,698.8 746.1,704.5 750.8,702.6 756.5,702.6 762.1,696.9 767.8,702.6 773.5,696.9 779.2,693.2 784.8,695.1 790.5,698.8 795.2,701.7 800.0,695.1 803.7,685.6 807.5,668.6 813.2,657.2 817.0,645.9 820.8,636.4 825.5,630.8 828.3,630.8 831.2,627.0 834.9,638.3 838.7,649.7 843.5,655.3 847.2,662.9 850.1,687.5 854.8,691.3 858.6,700.7 863.3,710.2 867.1,704.5 870.9,715.9 873.7,725.3 877.5,714.0 879.9,706.4 883.5,706.4 888.2,704.5 893.0,704.5 897.7,710.2 901.5,714.0 905.3,721.5 909.0,724.4 912.8,721.5 916.6,714.0 920.4,708.3 924.2,702.6 928.9,706.4 933.6,698.8 937.4,695.1 942.1,698.8 946.9,704.5 950.6,702.6 954.4,698.8 958.2,691.3 962.0,689.4 967.7,687.5 971.4,683.7 976.2,687.5 980.9,689.4 984.7,693.2 988.5,691.3 994.1,687.5 999.8,678.0 1005.5,670.5 1009.3,666.7 1013.0,670.5 1016.8,664.8 1021.5,659.1 1024.9,657.2 1025.7,658.2 1029.5,662.9 1034.2,670.5 1038.0,676.1 1040.8,689.4 1043.6,695.1 1047.4,685.6 1051.2,678.0 1055.0,676.1 1059.7,672.4 1065.4,672.4 1070.1,674.3 1073.9,676.1 1077.7,683.7 1082.4,687.5 1087.1,681.8 1091.9,676.1 1097.5,672.4 1103.2,666.7 1106.0,664.8 1109.8,672.4 1112.7,676.1 1118.3,674.3 1123.1,676.1 1127.8,679.9 1132.5,685.6 1137.2,691.3 1142.0,696.9 1146.7,698.8 1151.4,696.9 1155.2,699.8 1159.9,689.4 1164.7,683.7 1169.9,672.4 1173.5,662.9 1178.2,659.1 1183.0,654.4 1186.7,664.8 1190.5,676.1 1195.3,685.6 1200.0,695.1 1204.7,693.2 1209.4,700.7 1214.2,712.1 1218.9,721.5 1223.6,721.5 1227.4,725.3 1231.2,719.6 1235.0,712.1 1239.7,702.6 1244.4,696.9 1249.1,687.5 1253.9,691.3 1257.7,696.9 1261.4,704.5 1266.2,700.7 1271.8,700.7 1275.6,691.3 1279.4,679.9 1284.1,672.4 1289.8,664.8 1295.5,659.1 1300.2,653.5 1304.9,655.3 1308.7,666.7 1313.4,668.6 1317.2,683.7 1321.9,695.1 1325.7,706.4 1329.5,715.9 1333.3,725.3 1337.1,723.4 1339.9,727.2" fill="none" stroke="#00f" stroke-width="5.5" stroke-linejoin="round" stroke-linecap="round"/>
</g>
<line x1="108.86" y1="687.4" x2="1376.3" y2="687.4" stroke="#000" stroke-width="2.1" stroke-dasharray="6.6 11.943" stroke-linecap="round"/>
<text x="108.4" y="499.7" font-weight="bold" font-size="25">b)</text>
<text x="747" y="499.5" font-weight="bold" font-size="24.4" text-anchor="middle">Hadley</text>
<line x1="109" y1="535.1" x2="109" y2="840.2" stroke="#000" stroke-width="2.1" stroke-linecap="round"/>
<line x1="94.05" y1="828.76" x2="109" y2="828.76" stroke="#000" stroke-width="2.1" stroke-linecap="round"/>
<line x1="94.05" y1="811.09" x2="109" y2="811.09" stroke="#000" stroke-width="2.1" stroke-linecap="round"/>
<line x1="94.05" y1="793.42" x2="109" y2="793.42" stroke="#000" stroke-width="2.1" stroke-linecap="round"/>
<line x1="94.05" y1="775.75" x2="109" y2="775.75" stroke="#000" stroke-width="2.1" stroke-linecap="round"/>
<line x1="94.05" y1="758.08" x2="109" y2="758.08" stroke="#000" stroke-width="2.1" stroke-linecap="round"/>
<line x1="94.05" y1="740.41" x2="109" y2="740.41" stroke="#000" stroke-width="2.1" stroke-linecap="round"/>
<line x1="94.05" y1="722.74" x2="109" y2="722.74" stroke="#000" stroke-width="2.1" stroke-linecap="round"/>
<line x1="94.05" y1="705.07" x2="109" y2="705.07" stroke="#000" stroke-width="2.1" stroke-linecap="round"/>
<line x1="94.05" y1="687.40" x2="109" y2="687.40" stroke="#000" stroke-width="2.1" stroke-linecap="round"/>
<line x1="94.05" y1="669.73" x2="109" y2="669.73" stroke="#000" stroke-width="2.1" stroke-linecap="round"/>
<line x1="94.05" y1="652.06" x2="109" y2="652.06" stroke="#000" stroke-width="2.1" stroke-linecap="round"/>
<line x1="94.05" y1="634.39" x2="109" y2="634.39" stroke="#000" stroke-width="2.1" stroke-linecap="round"/>
<line x1="94.05" y1="616.72" x2="109" y2="616.72" stroke="#000" stroke-width="2.1" stroke-linecap="round"/>
<line x1="94.05" y1="599.05" x2="109" y2="599.05" stroke="#000" stroke-width="2.1" stroke-linecap="round"/>
<line x1="94.05" y1="581.38" x2="109" y2="581.38" stroke="#000" stroke-width="2.1" stroke-linecap="round"/>
<line x1="94.05" y1="563.71" x2="109" y2="563.71" stroke="#000" stroke-width="2.1" stroke-linecap="round"/>
<line x1="94.05" y1="546.04" x2="109" y2="546.04" stroke="#000" stroke-width="2.1" stroke-linecap="round"/>
<text transform="translate(74.2,546.0) rotate(-90)" font-size="25" text-anchor="middle">4.0</text>
<text transform="translate(74.2,616.7) rotate(-90)" font-size="25" text-anchor="middle">2.0</text>
<text transform="translate(74.2,687.4) rotate(-90)" font-size="25" text-anchor="middle">0.0</text>
<text transform="translate(74.2,758.1) rotate(-90)" font-size="25" text-anchor="middle">−2.0</text>
<text transform="translate(74.2,828.8) rotate(-90)" font-size="25" text-anchor="middle">−4.0</text>
<text transform="translate(23.3,687.2) rotate(-90)" font-size="31" text-anchor="middle">°C anomaly</text>
<line x1="130.04" y1="840.1" x2="1387.1" y2="840.1" stroke="#000" stroke-width="2.1" stroke-linecap="round"/>
<line x1="130.04" y1="840.1" x2="130.04" y2="854.8" stroke="#000" stroke-width="2.1" stroke-linecap="round"/>
<text x="130.0" y="893.2" font-size="24.6" text-anchor="middle">1980</text>
<line x1="208.31" y1="840.1" x2="208.31" y2="854.8" stroke="#000" stroke-width="2.1" stroke-linecap="round"/>
<text x="208.3" y="893.2" font-size="24.6" text-anchor="middle">1982</text>
<line x1="286.59" y1="840.1" x2="286.59" y2="854.8" stroke="#000" stroke-width="2.1" stroke-linecap="round"/>
<text x="286.6" y="893.2" font-size="24.6" text-anchor="middle">1984</text>
<line x1="364.87" y1="840.1" x2="364.87" y2="854.8" stroke="#000" stroke-width="2.1" stroke-linecap="round"/>
<text x="364.9" y="893.2" font-size="24.6" text-anchor="middle">1986</text>
<line x1="443.14" y1="840.1" x2="443.14" y2="854.8" stroke="#000" stroke-width="2.1" stroke-linecap="round"/>
<text x="443.1" y="893.2" font-size="24.6" text-anchor="middle">1988</text>
<line x1="521.41" y1="840.1" x2="521.41" y2="854.8" stroke="#000" stroke-width="2.1" stroke-linecap="round"/>
<text x="521.4" y="893.2" font-size="24.6" text-anchor="middle">1990</text>
<line x1="599.69" y1="840.1" x2="599.69" y2="854.8" stroke="#000" stroke-width="2.1" stroke-linecap="round"/>
<text x="599.7" y="893.2" font-size="24.6" text-anchor="middle">1992</text>
<line x1="677.97" y1="840.1" x2="677.97" y2="854.8" stroke="#000" stroke-width="2.1" stroke-linecap="round"/>
<text x="678.0" y="893.2" font-size="24.6" text-anchor="middle">1994</text>
<line x1="756.24" y1="840.1" x2="756.24" y2="854.8" stroke="#000" stroke-width="2.1" stroke-linecap="round"/>
<text x="756.2" y="893.2" font-size="24.6" text-anchor="middle">1996</text>
<line x1="834.51" y1="840.1" x2="834.51" y2="854.8" stroke="#000" stroke-width="2.1" stroke-linecap="round"/>
<text x="834.5" y="893.2" font-size="24.6" text-anchor="middle">1998</text>
<line x1="912.79" y1="840.1" x2="912.79" y2="854.8" stroke="#000" stroke-width="2.1" stroke-linecap="round"/>
<text x="912.8" y="893.2" font-size="24.6" text-anchor="middle">2000</text>
<line x1="991.07" y1="840.1" x2="991.07" y2="854.8" stroke="#000" stroke-width="2.1" stroke-linecap="round"/>
<text x="991.1" y="893.2" font-size="24.6" text-anchor="middle">2002</text>
<line x1="1069.34" y1="840.1" x2="1069.34" y2="854.8" stroke="#000" stroke-width="2.1" stroke-linecap="round"/>
<text x="1069.3" y="893.2" font-size="24.6" text-anchor="middle">2004</text>
<line x1="1147.62" y1="840.1" x2="1147.62" y2="854.8" stroke="#000" stroke-width="2.1" stroke-linecap="round"/>
<text x="1147.6" y="893.2" font-size="24.6" text-anchor="middle">2006</text>
<line x1="1225.89" y1="840.1" x2="1225.89" y2="854.8" stroke="#000" stroke-width="2.1" stroke-linecap="round"/>
<text x="1225.9" y="893.2" font-size="24.6" text-anchor="middle">2008</text>
<line x1="1304.16" y1="840.1" x2="1304.16" y2="854.8" stroke="#000" stroke-width="2.1" stroke-linecap="round"/>
<text x="1304.2" y="893.2" font-size="24.6" text-anchor="middle">2010</text>
<line x1="1382.44" y1="840.1" x2="1382.44" y2="854.8" stroke="#000" stroke-width="2.1" stroke-linecap="round"/>
<text x="1382.4" y="893.2" font-size="24.6" text-anchor="middle">2012</text>
<line x1="1387" y1="546.06" x2="1387" y2="828.75" stroke="#000" stroke-width="2.1" stroke-linecap="round"/>
<line x1="1387" y1="828.75" x2="1401.4" y2="828.75" stroke="#000" stroke-width="2.1" stroke-linecap="round"/>
<text transform="translate(1441,828.8) rotate(-90)" font-size="25" text-anchor="middle">0.0</text>
<line x1="1387" y1="772.21" x2="1401.4" y2="772.21" stroke="#000" stroke-width="2.1" stroke-linecap="round"/>
<text transform="translate(1441,772.2) rotate(-90)" font-size="25" text-anchor="middle">0.2</text>
<line x1="1387" y1="715.67" x2="1401.4" y2="715.67" stroke="#000" stroke-width="2.1" stroke-linecap="round"/>
<text transform="translate(1441,715.7) rotate(-90)" font-size="25" text-anchor="middle">0.4</text>
<line x1="1387" y1="659.14" x2="1401.4" y2="659.14" stroke="#000" stroke-width="2.1" stroke-linecap="round"/>
<text transform="translate(1441,659.1) rotate(-90)" font-size="25" text-anchor="middle">0.6</text>
<line x1="1387" y1="602.60" x2="1401.4" y2="602.60" stroke="#000" stroke-width="2.1" stroke-linecap="round"/>
<text transform="translate(1441,602.6) rotate(-90)" font-size="25" text-anchor="middle">0.8</text>
<line x1="1387" y1="546.06" x2="1401.4" y2="546.06" stroke="#000" stroke-width="2.1" stroke-linecap="round"/>
<text transform="translate(1441,546.1) rotate(-90)" font-size="25" text-anchor="middle">1.0</text>
<text transform="translate(1490,687.0) rotate(-90)" font-size="31" text-anchor="middle">data fraction</text>
<rect x="131" y="774.4" width="17.2" height="14" fill="#f00" stroke="#000" stroke-width="2"/>
<rect x="131" y="803.7" width="17.2" height="14" fill="#00f" stroke="#000" stroke-width="2"/>
<text x="170.6" y="789.7" font-size="24.35">HadNMAT</text>
<text x="170.6" y="819.2" font-size="24.35">HadCRUT</text>
<text x="940" y="789.7" font-size="24.75" style="white-space:pre">HadNMAT trend: −0.01 ± 0.06  °C/10yrs</text>
<text x="940" y="819.2" font-size="24.75" style="white-space:pre">HadCRUT trend: 0.03 ± 0.07  °C/10yrs</text>
<g clip-path="url(#cp2)">
<polyline points="155.3,1166.8 160.4,1168.8 166.5,1170.9 172.6,1172.9 178.7,1166.8 184.8,1164.8 190.9,1164.8 197.0,1166.8 203.1,1164.8 209.2,1162.7 215.3,1156.6 221.5,1144.4 225.5,1134.2 229.6,1126.1 232.7,1107.7 235.7,1083.3 238.8,1065.0 242.8,1060.9 245.9,1075.2 248.9,1095.5 252.0,1115.9 255.1,1122.0 258.1,1113.9 262.2,1095.5 266.3,1081.3 268.3,1079.2 271.3,1111.8 274.4,1132.2 278.5,1142.4 282.5,1150.5 286.6,1156.6 290.7,1158.7 296.8,1164.8 302.9,1168.8 309.0,1172.9 315.1,1168.8 321.2,1170.9 327.3,1170.9 333.5,1170.9 339.6,1172.9 345.7,1170.9 351.8,1168.8 357.9,1168.8 364.0,1168.8 370.1,1168.8 376.2,1166.8 382.3,1164.8 386.4,1160.7 393.1,1130.1 397.2,1122.0 401.3,1120.0 405.4,1124.0 409.4,1136.3 413.5,1136.3 417.6,1124.0 421.7,1111.8 427.8,1099.6 431.8,1103.7 435.9,1113.9 440.0,1124.0 444.1,1132.2 448.1,1148.5 452.2,1160.7 458.3,1160.7 462.4,1156.6 466.5,1164.8 470.5,1170.9 476.6,1177.0 482.7,1172.9 488.9,1170.9 495.0,1170.9 501.1,1168.8 507.2,1166.8 513.3,1164.8 519.4,1156.6 523.5,1150.5 527.5,1148.5 533.7,1146.4 539.8,1148.5 545.9,1152.5 552.0,1148.5 556.1,1136.3 562.2,1136.3 568.3,1140.3 572.3,1136.3 576.4,1124.0 580.5,1136.3 584.6,1140.3 588.6,1134.2 592.7,1120.0 596.8,1109.8 600.9,1113.9 604.9,1124.0 611.0,1140.3 615.1,1148.5 621.2,1150.5 627.3,1154.6 638.4,1149.7 642.7,1147.6 646.9,1143.4 651.1,1139.2 655.3,1137.1 661.6,1151.9 668.0,1156.1 674.3,1154.0 680.6,1156.1 686.9,1156.1 693.3,1154.0 697.5,1143.4 701.7,1135.0 705.9,1124.4 711.2,1120.2 714.4,1118.1 718.6,1126.5 722.8,1135.0 727.0,1145.5 733.3,1154.0 739.7,1158.2 746.0,1162.4 752.3,1164.5 758.7,1160.3 765.0,1164.5 771.3,1160.3 777.6,1156.1 784.0,1151.9 790.3,1156.1 796.6,1151.9 800.8,1147.6 805.1,1126.5 809.3,1105.5 811.4,1088.6 814.5,1063.3 817.7,1042.2 820.9,1031.6 824.0,1027.4 828.3,1038.0 832.5,1054.8 836.7,1080.1 840.9,1097.0 843.0,1111.8 849.3,1120.2 855.7,1126.5 859.9,1130.8 864.1,1143.4 868.3,1151.9 874.7,1160.3 879.9,1164.5 881.3,1170.8 887.7,1172.9 894.0,1168.7 900.3,1164.5 906.6,1168.7 913.0,1168.7 919.3,1166.6 923.5,1158.2 929.8,1156.1 936.2,1154.0 942.5,1151.9 948.8,1156.1 955.1,1160.3 961.5,1160.3 967.8,1156.1 974.1,1154.0 980.5,1151.9 986.8,1147.6 993.1,1147.6 999.4,1145.5 1005.8,1143.4 1012.1,1130.8 1018.4,1118.1 1022.6,1103.3 1026.9,1105.5 1031.1,1118.1 1035.3,1130.8 1039.5,1143.4 1043.7,1149.7 1047.9,1151.9 1054.3,1147.6 1060.6,1143.4 1066.9,1141.3 1073.3,1147.6 1077.5,1156.1 1083.8,1151.9 1088.0,1143.4 1094.3,1135.0 1100.7,1132.9 1107.0,1135.0 1113.3,1141.3 1119.7,1147.6 1124.9,1147.6 1126.3,1149.7 1132.7,1154.0 1139.0,1151.9 1145.3,1154.0 1151.6,1160.3 1158.0,1160.3 1164.3,1156.1 1170.6,1143.4 1174.8,1126.5 1179.1,1116.0 1183.3,1124.4 1187.5,1135.0 1191.7,1151.9 1198.0,1156.1 1204.4,1156.1 1210.7,1160.3 1217.0,1166.6 1223.3,1170.8 1229.7,1164.5 1236.0,1156.1 1242.3,1143.4 1246.5,1135.0 1250.8,1139.2 1255.0,1154.0 1261.3,1158.2 1267.6,1158.2 1274.0,1160.3 1280.3,1143.4 1286.6,1130.8 1292.9,1126.5 1297.2,1113.9 1301.4,1103.3 1305.6,1118.1 1309.8,1124.4 1314.0,1135.0 1318.3,1147.6 1322.5,1160.3 1328.8,1168.7 1335.1,1170.8 1339.3,1175.1" fill="none" stroke="#f00" stroke-width="2" stroke-linejoin="round" stroke-linecap="round" stroke-dasharray="6.6 11.9"/>
<polyline points="155.3,1179.0 160.4,1187.2 166.5,1199.4 170.5,1213.6 174.6,1201.4 178.7,1193.3 182.8,1191.2 188.9,1193.3 192.9,1197.3 199.1,1189.2 205.2,1183.1 211.3,1181.1 217.4,1179.0 221.5,1177.0 227.6,1179.0 233.7,1183.1 237.7,1179.0 243.9,1183.1 247.9,1189.2 254.0,1189.2 258.1,1185.1 264.2,1179.0 268.3,1187.2 272.4,1197.3 276.4,1211.6 280.5,1219.7 286.6,1205.5 292.7,1205.5 298.8,1213.6 302.9,1215.7 307.0,1207.5 313.1,1209.6 317.2,1215.7 323.3,1211.6 329.4,1209.6 335.5,1205.5 341.6,1203.5 347.7,1199.4 353.8,1197.3 359.9,1193.3 366.0,1189.2 372.1,1187.2 378.3,1185.1 384.4,1183.1 391.1,1183.1 397.2,1177.0 403.3,1179.0 409.4,1177.0 415.5,1181.1 421.7,1183.1 427.8,1187.2 431.8,1170.9 437.9,1166.8 442.0,1164.8 446.1,1170.9 448.1,1183.1 450.2,1201.4 454.2,1223.8 456.3,1254.4 460.3,1250.3 464.4,1234.0 468.5,1234.0 470.5,1252.3 474.6,1260.5 478.7,1248.3 482.7,1234.0 486.8,1217.7 490.9,1211.6 495.0,1207.5 501.1,1201.4 507.2,1193.3 513.3,1189.2 519.4,1185.1 525.5,1181.1 531.6,1179.0 537.7,1181.1 541.8,1191.2 547.9,1187.2 554.0,1185.1 560.1,1189.2 566.2,1185.1 572.3,1177.0 576.4,1166.8 580.5,1172.9 586.6,1177.0 592.7,1179.0 598.8,1181.1 604.9,1183.1 611.0,1179.0 617.1,1181.1 623.3,1185.1 629.4,1181.1 636.3,1179.3 642.7,1179.3 649.0,1181.4 655.3,1181.4 661.6,1179.3 668.0,1172.9 672.2,1175.1 676.4,1181.4 680.6,1187.7 684.8,1194.0 689.1,1196.1 693.3,1185.6 697.5,1200.4 701.7,1187.7 705.9,1181.4 710.1,1172.9 714.4,1170.8 718.6,1175.1 722.8,1181.4 727.0,1198.3 731.2,1204.6 735.5,1194.0 739.7,1202.5 743.9,1217.2 748.1,1208.8 752.3,1204.6 756.5,1202.5 760.8,1198.3 765.0,1206.7 769.2,1202.5 773.4,1194.0 777.6,1196.1 781.9,1198.3 786.1,1200.4 790.3,1210.9 794.5,1206.7 798.7,1189.8 802.9,1179.3 807.2,1175.1 811.4,1175.1 815.6,1170.8 821.9,1172.9 828.3,1175.1 832.5,1172.9 836.7,1175.1 840.9,1175.1 845.1,1175.1 849.3,1189.8 851.5,1221.5 853.6,1253.1 857.8,1251.0 862.0,1229.9 866.2,1242.5 870.4,1248.9 874.7,1240.4 879.9,1225.7 881.3,1210.9 885.5,1202.5 889.8,1202.5 894.0,1208.8 898.2,1217.2 902.4,1225.7 906.6,1234.1 910.9,1236.2 915.1,1227.8 919.3,1215.1 923.5,1200.4 927.7,1189.8 931.9,1191.9 938.3,1196.1 944.6,1202.5 948.8,1204.6 955.1,1191.9 959.4,1183.5 963.6,1181.4 967.8,1187.7 972.0,1194.0 976.2,1200.4 980.5,1202.5 984.7,1198.3 988.9,1194.0 993.1,1185.6 997.3,1177.2 1001.5,1170.8 1005.8,1170.8 1010.0,1172.9 1014.2,1177.2 1018.4,1175.1 1022.6,1168.7 1026.9,1166.6 1031.1,1168.7 1035.3,1175.1 1039.5,1189.8 1043.7,1213.0 1046.9,1202.5 1050.1,1185.6 1054.3,1179.3 1058.5,1175.1 1062.7,1172.9 1069.0,1175.1 1075.4,1181.4 1081.7,1196.1 1088.0,1204.6 1092.2,1194.0 1096.5,1181.4 1102.8,1175.1 1107.0,1175.1 1111.2,1181.4 1117.5,1179.3 1124.9,1181.4 1128.4,1185.6 1132.7,1194.0 1136.9,1208.8 1141.1,1202.5 1145.3,1198.3 1149.5,1194.0 1153.7,1185.6 1160.1,1179.3 1166.4,1172.9 1172.7,1170.8 1179.1,1166.6 1183.3,1162.4 1187.5,1172.9 1191.7,1189.8 1195.9,1200.4 1200.1,1208.8 1204.4,1219.3 1208.6,1227.8 1212.8,1236.2 1217.0,1244.7 1221.2,1236.2 1225.5,1232.0 1229.7,1223.6 1233.9,1213.0 1238.1,1198.3 1242.3,1189.8 1246.5,1185.6 1250.8,1183.5 1255.0,1185.6 1259.2,1191.9 1263.4,1194.0 1267.6,1191.9 1271.9,1179.3 1276.1,1170.8 1280.3,1164.5 1286.6,1162.4 1292.9,1164.5 1297.2,1166.6 1301.4,1168.7 1307.7,1170.8 1314.0,1181.4 1318.3,1194.0 1322.5,1208.8 1326.7,1221.5 1333.0,1229.9 1339.3,1227.8" fill="none" stroke="#f00" stroke-width="2" stroke-linejoin="round" stroke-linecap="round" stroke-dasharray="6.6 11.9"/>
<polyline points="155.3,1160.7 160.4,1164.8 166.5,1166.8 172.6,1170.9 178.7,1164.8 182.8,1162.7 188.9,1162.7 195.0,1164.8 201.1,1162.7 207.2,1158.7 211.3,1148.5 215.3,1136.3 219.4,1124.0 225.5,1120.0 229.6,1115.9 231.6,1101.6 233.7,1075.2 236.7,1050.7 239.8,1036.5 242.8,1026.3 244.9,1020.2 247.9,1030.4 251.0,1046.7 253.0,1062.9 257.1,1075.2 262.2,1071.1 265.2,1065.0 268.3,1071.1 270.3,1095.5 273.4,1128.1 278.5,1140.3 282.5,1144.4 286.6,1152.5 290.7,1158.7 294.8,1156.6 300.9,1166.8 304.9,1172.9 311.1,1160.7 315.1,1164.8 319.2,1168.8 325.3,1164.8 331.4,1166.8 335.5,1164.8 341.6,1166.8 347.7,1164.8 353.8,1162.7 359.9,1160.7 364.0,1158.7 370.1,1156.6 376.2,1152.5 382.3,1152.5 386.4,1148.5 393.1,1122.0 397.2,1113.9 403.3,1105.7 409.4,1111.8 413.5,1115.9 419.6,1101.6 423.7,1095.5 427.8,1091.5 431.8,1101.6 435.9,1113.9 440.0,1122.0 444.1,1128.1 448.1,1144.4 452.2,1156.6 456.3,1160.7 460.3,1164.8 466.5,1166.8 470.5,1177.0 474.6,1181.1 480.7,1174.9 486.8,1168.8 492.9,1170.9 501.1,1170.9 509.2,1166.8 515.3,1158.7 519.4,1150.5 525.5,1144.4 531.6,1144.4 537.7,1146.4 543.8,1150.5 549.9,1148.5 554.0,1140.3 558.1,1124.0 562.2,1122.0 566.2,1138.3 572.3,1136.3 576.4,1111.8 580.5,1132.2 586.6,1136.3 590.7,1117.9 594.7,1097.6 598.8,1087.4 602.9,1085.3 607.0,1095.5 611.0,1105.7 615.1,1124.0 617.1,1142.4 621.2,1144.4 627.3,1150.5 638.4,1135.0 642.7,1139.2 646.9,1135.0 651.1,1124.4 655.3,1132.9 659.5,1137.1 665.9,1141.3 672.2,1145.5 678.5,1149.7 684.8,1147.6 689.1,1149.7 693.3,1145.5 697.5,1135.0 701.7,1122.3 705.9,1118.1 710.1,1109.7 714.4,1113.9 718.6,1128.7 722.8,1137.1 729.1,1149.7 735.5,1156.1 741.8,1156.1 748.1,1162.4 754.4,1151.9 756.5,1143.4 760.8,1154.0 767.1,1162.4 771.3,1166.6 777.6,1162.4 784.0,1160.3 790.3,1160.3 796.6,1145.5 800.8,1137.1 805.1,1122.3 809.3,1105.5 811.4,1088.6 813.5,1063.3 815.6,1042.2 818.8,1016.9 820.9,1004.2 833.5,1004.2 835.6,1031.6 838.8,1052.7 842.0,1075.9 845.1,1099.1 849.3,1113.9 853.6,1122.3 857.8,1124.4 862.0,1135.0 866.2,1147.6 870.4,1156.1 874.7,1162.4 879.9,1160.3 883.4,1164.5 887.7,1168.7 894.0,1172.9 900.3,1170.8 906.6,1166.6 913.0,1164.5 917.2,1160.3 921.4,1154.0 927.7,1164.5 934.1,1164.5 938.3,1154.0 942.5,1156.1 948.8,1156.1 955.1,1162.4 959.4,1154.0 963.6,1158.2 967.8,1156.1 972.0,1151.9 976.2,1147.6 982.6,1137.1 988.9,1139.2 995.2,1143.4 1001.5,1137.1 1007.9,1128.7 1014.2,1122.3 1018.4,1107.6 1022.6,1092.8 1026.9,1094.9 1031.1,1109.7 1035.3,1122.3 1039.5,1139.2 1043.7,1147.6 1047.9,1145.5 1054.3,1143.4 1060.6,1135.0 1064.8,1137.1 1069.0,1139.2 1073.3,1143.4 1079.6,1147.6 1085.9,1137.1 1090.1,1132.9 1094.3,1130.8 1098.6,1124.4 1104.9,1126.5 1111.2,1130.8 1117.5,1141.3 1124.9,1143.4 1126.3,1143.4 1132.7,1143.4 1139.0,1147.6 1145.3,1149.7 1151.6,1156.1 1158.0,1160.3 1164.3,1149.7 1170.6,1137.1 1174.8,1118.1 1179.1,1109.7 1183.3,1109.7 1186.4,1126.5 1189.6,1143.4 1195.9,1147.6 1202.3,1154.0 1208.6,1160.3 1214.9,1164.5 1221.2,1172.9 1227.6,1175.1 1233.9,1151.9 1240.2,1143.4 1244.4,1135.0 1248.7,1122.3 1252.9,1137.1 1257.1,1154.0 1263.4,1160.3 1269.7,1164.5 1276.1,1151.9 1280.3,1132.9 1284.5,1126.5 1288.7,1128.7 1292.9,1120.2 1297.2,1103.3 1301.4,1097.0 1305.6,1099.1 1309.8,1109.7 1314.0,1128.7 1318.3,1145.5 1322.5,1162.4 1328.8,1170.8 1333.0,1175.1 1339.3,1168.7" fill="none" stroke="#00f" stroke-width="2" stroke-linejoin="round" stroke-linecap="round" stroke-dasharray="0.1 9 7 9"/>
<polyline points="155.3,1183.1 158.3,1195.3 162.4,1191.2 166.5,1205.5 169.5,1223.8 173.6,1213.6 178.7,1219.7 182.8,1201.4 186.8,1193.3 192.9,1193.3 197.0,1189.2 203.1,1187.2 209.2,1183.1 215.3,1181.1 221.5,1177.0 225.5,1174.9 229.6,1177.0 233.7,1181.1 237.7,1179.0 241.8,1185.1 245.9,1197.3 250.0,1195.3 254.0,1193.3 260.1,1189.2 264.2,1189.2 268.3,1199.4 274.4,1213.6 278.5,1229.9 282.5,1225.9 286.6,1211.6 292.7,1213.6 298.8,1215.7 302.9,1229.9 307.0,1213.6 313.1,1205.5 317.2,1217.7 322.3,1232.0 327.3,1217.7 333.5,1211.6 339.6,1213.6 345.7,1209.6 351.8,1205.5 357.9,1203.5 366.0,1203.5 372.1,1195.3 378.3,1189.2 384.4,1185.1 395.2,1174.9 401.3,1181.1 407.4,1183.1 413.5,1179.0 417.6,1181.1 421.7,1187.2 425.7,1195.3 429.8,1185.1 433.9,1170.9 437.9,1166.8 442.0,1168.8 446.1,1170.9 448.1,1185.1 450.2,1203.5 452.2,1223.8 454.2,1248.3 456.3,1266.6 460.3,1252.3 464.4,1240.1 468.5,1248.3 470.5,1264.5 472.6,1276.8 476.6,1266.6 480.7,1254.4 484.8,1234.0 488.9,1223.8 495.0,1211.6 501.1,1205.5 507.2,1199.4 513.3,1191.2 519.4,1183.1 525.5,1179.0 531.6,1179.0 537.7,1177.0 543.8,1183.1 549.9,1189.2 554.0,1195.3 558.1,1191.2 564.2,1189.2 570.3,1185.1 576.4,1164.8 580.5,1170.9 584.6,1177.0 590.7,1177.0 596.8,1181.1 600.9,1189.2 607.0,1187.2 613.1,1185.1 617.1,1183.1 623.3,1195.3 629.4,1187.2 640.5,1181.4 646.9,1183.5 653.2,1183.5 657.4,1181.4 661.6,1175.1 668.0,1172.9 672.2,1170.8 676.4,1181.4 680.6,1187.7 684.8,1196.1 688.0,1200.4 691.2,1189.8 695.4,1185.6 699.6,1185.6 703.8,1181.4 708.0,1177.2 712.3,1175.1 716.5,1172.9 720.7,1177.2 724.9,1196.1 729.1,1210.9 733.3,1202.5 737.6,1191.9 741.8,1208.8 744.9,1223.6 748.1,1221.5 752.3,1217.2 756.5,1206.7 760.8,1202.5 765.0,1217.2 769.2,1204.6 773.4,1198.3 777.6,1202.5 781.9,1196.1 788.2,1200.4 792.4,1221.5 796.6,1202.5 800.8,1185.6 805.1,1179.3 809.3,1175.1 815.6,1181.4 819.8,1187.7 824.0,1183.5 828.3,1179.3 834.6,1185.6 840.9,1187.7 845.1,1185.6 847.2,1202.5 849.3,1227.8 851.5,1253.1 853.6,1270.0 856.7,1270.0 859.9,1253.1 862.0,1242.5 866.2,1246.8 870.4,1265.7 874.7,1257.3 879.9,1238.3 881.3,1221.5 885.5,1206.7 889.8,1208.8 894.0,1213.0 898.2,1221.5 902.4,1232.0 906.6,1242.5 910.9,1246.8 915.1,1238.3 919.3,1227.8 923.5,1210.9 927.7,1204.6 931.9,1202.5 938.3,1198.3 942.5,1202.5 946.7,1208.8 950.9,1208.8 955.1,1196.1 959.4,1189.8 963.6,1183.5 967.8,1185.6 972.0,1196.1 976.2,1204.6 980.5,1208.8 984.7,1202.5 988.9,1200.4 993.1,1189.8 997.3,1183.5 1001.5,1175.1 1005.8,1168.7 1010.0,1175.1 1014.2,1177.2 1018.4,1175.1 1022.6,1170.8 1026.9,1172.9 1031.1,1175.1 1035.3,1181.4 1039.5,1189.8 1041.6,1210.9 1043.7,1227.8 1047.9,1200.4 1052.2,1185.6 1056.4,1177.2 1060.6,1172.9 1064.8,1168.7 1069.0,1172.9 1073.3,1177.2 1077.5,1185.6 1081.7,1202.5 1085.9,1204.6 1090.1,1189.8 1094.3,1179.3 1098.6,1170.8 1102.8,1168.7 1107.0,1177.2 1111.2,1187.7 1115.4,1183.5 1119.7,1175.1 1124.9,1168.7 1128.4,1183.5 1132.7,1189.8 1136.9,1200.4 1141.1,1206.7 1145.3,1208.8 1149.5,1202.5 1153.7,1210.9 1158.0,1189.8 1162.2,1179.3 1168.5,1172.9 1174.8,1168.7 1181.2,1166.6 1185.4,1168.7 1187.5,1179.3 1191.7,1194.0 1195.9,1204.6 1200.1,1213.0 1204.4,1219.3 1208.6,1227.8 1212.8,1236.2 1217.0,1246.8 1223.3,1253.1 1229.7,1246.8 1233.9,1225.7 1238.1,1213.0 1242.3,1206.7 1246.5,1200.4 1250.8,1198.3 1255.0,1194.0 1259.2,1202.5 1263.4,1210.9 1267.6,1213.0 1271.9,1202.5 1276.1,1177.2 1280.3,1168.7 1286.6,1166.6 1292.9,1164.5 1297.2,1160.3 1301.4,1166.6 1307.7,1175.1 1314.0,1181.4 1318.3,1200.4 1322.5,1217.2 1326.7,1232.0 1333.0,1242.5 1339.3,1244.7" fill="none" stroke="#00f" stroke-width="2" stroke-linejoin="round" stroke-linecap="round" stroke-dasharray="0.1 9 7 9"/>
<polyline points="155.3,1170.9 160.4,1174.9 164.4,1177.0 168.5,1179.0 172.6,1187.2 176.7,1185.1 180.7,1181.1 184.8,1179.0 189.9,1179.0 195.0,1179.0 201.1,1177.0 205.2,1174.9 210.3,1170.9 215.3,1166.8 221.5,1158.7 225.5,1156.6 229.6,1160.7 233.7,1152.5 239.8,1144.4 241.8,1136.3 245.9,1136.3 248.9,1136.3 254.0,1150.5 258.1,1158.7 263.2,1152.5 266.3,1150.5 270.3,1162.7 274.4,1172.9 278.5,1183.1 284.6,1181.1 290.7,1181.1 296.8,1183.1 302.9,1193.3 309.0,1189.2 315.1,1187.2 319.2,1191.2 325.3,1189.2 331.4,1189.2 337.5,1185.1 343.6,1187.2 349.7,1183.1 355.9,1183.1 362.0,1181.1 368.1,1177.0 374.2,1174.9 380.3,1172.9 386.4,1164.8 393.1,1156.6 397.2,1152.5 401.3,1152.5 405.4,1156.6 409.4,1160.7 415.5,1160.7 419.6,1152.5 423.7,1148.5 427.8,1142.4 433.9,1138.3 437.9,1142.4 442.0,1148.5 446.1,1156.6 450.2,1164.8 454.2,1179.0 458.3,1193.3 462.4,1195.3 466.5,1193.3 470.5,1203.5 474.6,1209.6 478.7,1207.5 482.7,1201.4 486.8,1195.3 490.9,1191.2 495.0,1187.2 499.0,1183.1 503.1,1179.0 509.2,1177.0 513.3,1174.9 519.4,1170.9 523.5,1164.8 529.6,1162.7 535.7,1162.7 541.8,1166.8 547.9,1164.8 554.0,1162.7 560.1,1160.7 566.2,1160.7 572.3,1160.7 578.5,1160.7 584.6,1162.7 590.7,1152.5 596.8,1150.5 602.9,1152.5 609.0,1154.6 615.1,1160.7 621.2,1166.8 627.3,1168.8 638.4,1164.5 642.7,1164.5 646.9,1162.4 651.1,1158.2 655.3,1162.4 661.6,1168.7 665.9,1162.4 671.1,1160.3 676.4,1166.6 682.7,1168.7 688.0,1170.8 693.3,1166.6 697.5,1170.8 701.7,1166.6 705.9,1160.3 710.1,1151.9 714.4,1149.7 718.6,1154.0 722.8,1162.4 727.0,1168.7 733.3,1170.8 737.6,1175.1 741.8,1181.4 747.1,1185.6 752.3,1183.5 756.5,1179.3 761.8,1175.1 767.1,1179.3 771.3,1179.3 775.5,1175.1 779.7,1172.9 786.1,1175.1 792.4,1179.3 796.6,1179.3 800.8,1168.7 805.1,1162.4 809.3,1149.7 813.5,1137.1 817.7,1126.5 821.9,1122.3 826.1,1122.3 831.4,1118.1 834.6,1126.5 838.8,1135.0 843.0,1143.4 847.2,1151.9 851.5,1164.5 855.7,1172.9 859.9,1175.1 864.1,1181.4 868.3,1189.8 872.5,1200.4 876.8,1189.8 879.9,1187.7 883.4,1183.5 887.7,1181.4 891.9,1183.5 896.1,1185.6 901.4,1191.9 906.6,1196.1 911.9,1200.4 917.2,1189.8 921.4,1179.3 926.7,1181.4 931.9,1177.2 937.2,1175.1 942.5,1177.2 947.8,1181.4 953.0,1175.1 958.3,1168.7 963.6,1166.6 968.9,1168.7 974.1,1170.8 979.4,1175.1 984.7,1170.8 989.9,1168.7 995.2,1164.5 1001.5,1160.3 1006.8,1156.1 1012.1,1156.1 1017.4,1154.0 1023.7,1139.2 1027.9,1147.6 1033.2,1151.9 1037.4,1160.3 1041.6,1168.7 1045.8,1172.9 1050.1,1166.6 1054.3,1162.4 1058.5,1158.2 1063.8,1154.0 1069.0,1160.3 1074.3,1162.4 1078.5,1166.6 1083.8,1168.7 1088.0,1170.8 1092.2,1164.5 1097.5,1156.1 1102.8,1151.9 1107.0,1154.0 1111.2,1156.1 1116.5,1156.1 1120.7,1158.2 1124.9,1160.3 1129.5,1162.4 1134.8,1166.6 1140.0,1172.9 1145.3,1175.1 1150.6,1172.9 1155.9,1175.1 1160.1,1168.7 1165.3,1162.4 1170.6,1154.0 1174.8,1147.6 1180.1,1145.5 1184.3,1141.3 1187.5,1151.9 1192.8,1164.5 1198.0,1170.8 1203.3,1175.1 1208.6,1181.4 1213.9,1189.8 1219.1,1200.4 1224.4,1200.4 1228.6,1198.3 1233.9,1187.7 1239.2,1181.4 1244.4,1170.8 1249.7,1166.6 1255.0,1168.7 1260.3,1177.2 1265.5,1179.3 1270.8,1175.1 1276.1,1166.6 1280.3,1154.0 1285.6,1149.7 1290.8,1151.9 1296.1,1147.6 1300.3,1139.2 1304.5,1145.5 1309.8,1149.7 1315.1,1151.9 1319.3,1164.5 1323.5,1179.3 1327.7,1191.9 1333.0,1198.3 1337.2,1201.4 1340.4,1202.5" fill="none" stroke="#f00" stroke-width="5.5" stroke-linejoin="round" stroke-linecap="round"/>
<polyline points="155.3,1171.9 158.3,1179.0 162.4,1177.0 166.5,1179.0 170.5,1191.2 174.6,1189.2 178.7,1187.2 182.8,1179.0 185.8,1181.1 188.9,1174.9 192.9,1182.1 198.0,1180.0 203.1,1177.0 207.2,1171.9 211.3,1168.8 214.3,1160.7 218.4,1150.5 222.5,1146.4 227.6,1148.5 231.6,1140.3 235.7,1130.1 239.8,1120.0 243.9,1115.9 247.9,1121.0 252.0,1132.2 256.1,1142.4 260.1,1145.4 264.2,1145.4 268.3,1156.6 272.4,1168.8 276.4,1181.1 280.5,1189.2 284.6,1183.1 288.7,1181.1 294.8,1181.1 298.8,1187.2 302.9,1197.3 307.0,1187.2 312.1,1177.0 315.1,1189.2 319.2,1193.3 323.3,1195.3 327.3,1191.2 331.4,1194.3 335.5,1189.2 341.6,1187.2 347.7,1185.1 353.8,1183.1 359.9,1183.1 365.0,1185.1 369.1,1179.0 374.2,1177.0 380.3,1172.9 384.4,1170.9 393.1,1148.5 397.2,1146.4 401.3,1146.4 405.4,1144.4 409.4,1146.4 413.5,1148.5 417.6,1146.4 421.7,1142.4 425.7,1138.3 429.8,1135.2 433.9,1133.2 437.9,1137.3 442.0,1144.4 446.1,1152.5 450.2,1164.8 454.2,1181.1 457.3,1195.3 460.3,1201.4 464.4,1203.5 468.5,1211.6 472.6,1220.8 476.6,1219.7 481.7,1215.7 484.8,1203.5 488.9,1199.4 492.9,1193.3 497.0,1189.2 501.1,1185.1 506.2,1187.2 510.2,1185.1 515.3,1181.1 519.4,1170.9 523.5,1166.8 527.5,1166.8 531.6,1162.7 536.7,1164.8 541.8,1166.8 545.9,1164.8 549.9,1162.7 554.0,1162.7 560.1,1156.6 566.2,1162.7 570.3,1160.7 576.4,1142.4 580.5,1156.6 584.6,1160.7 588.6,1152.5 592.7,1144.4 598.8,1142.4 604.9,1144.4 609.0,1148.5 614.1,1148.5 617.1,1158.7 621.2,1164.8 625.3,1168.8 629.4,1170.9 638.4,1162.4 642.7,1160.3 646.9,1154.0 651.1,1150.8 655.3,1156.1 660.6,1162.4 665.9,1158.2 671.1,1156.1 675.3,1160.3 679.6,1166.6 684.8,1167.7 690.1,1166.6 694.3,1162.4 697.5,1166.6 701.7,1160.3 705.9,1156.1 710.1,1145.5 714.4,1145.5 718.6,1149.7 722.8,1160.3 727.0,1168.7 731.2,1172.9 735.5,1170.8 739.7,1179.3 743.9,1187.7 749.2,1191.9 754.4,1183.5 758.7,1181.4 762.9,1181.4 767.1,1183.5 771.3,1181.4 777.6,1177.2 781.9,1177.2 787.1,1179.3 792.4,1184.5 796.6,1179.3 800.8,1168.7 805.1,1156.1 809.3,1143.4 813.5,1128.7 817.7,1118.1 821.9,1113.9 826.1,1107.6 829.3,1103.3 832.5,1109.7 837.7,1122.3 842.0,1135.0 846.2,1147.6 849.3,1160.3 852.5,1172.9 855.7,1181.4 859.9,1183.5 864.1,1194.0 868.3,1202.5 873.6,1210.9 877.8,1198.3 879.9,1194.0 883.4,1191.9 887.7,1187.7 891.9,1190.9 896.1,1194.0 901.4,1198.3 906.6,1204.6 911.9,1208.8 916.1,1200.4 920.3,1185.6 924.6,1183.5 929.8,1185.6 935.1,1179.3 939.3,1177.2 943.5,1181.4 948.8,1187.7 954.1,1183.5 958.3,1172.9 962.5,1170.8 967.8,1170.8 972.0,1167.7 976.2,1168.7 980.5,1172.9 984.7,1170.8 988.9,1172.9 993.1,1164.5 997.3,1162.4 1001.5,1158.2 1005.8,1151.9 1010.0,1149.7 1014.2,1147.6 1019.5,1141.3 1023.7,1136.0 1027.9,1139.2 1032.1,1147.6 1036.3,1154.0 1039.5,1164.5 1043.7,1177.2 1047.9,1164.5 1052.2,1162.4 1056.4,1160.3 1059.5,1154.0 1063.8,1151.9 1068.0,1156.1 1072.2,1160.3 1076.4,1162.4 1080.6,1166.6 1084.9,1166.6 1089.1,1162.4 1093.3,1156.1 1097.5,1151.9 1101.7,1147.6 1104.9,1145.5 1108.1,1151.9 1111.2,1160.3 1115.4,1158.2 1119.7,1158.2 1124.9,1160.3 1128.4,1160.3 1132.7,1164.5 1136.9,1168.7 1141.1,1177.2 1146.4,1181.4 1151.6,1179.3 1155.9,1175.1 1160.1,1166.6 1165.3,1160.3 1170.6,1151.9 1174.8,1143.4 1179.1,1141.3 1183.3,1137.1 1187.5,1151.9 1191.7,1162.4 1195.9,1168.7 1201.2,1172.9 1205.4,1177.2 1209.6,1185.6 1213.9,1196.1 1219.1,1210.9 1223.3,1208.8 1226.5,1213.0 1229.7,1204.6 1233.9,1194.0 1238.1,1187.7 1242.3,1181.4 1246.5,1170.8 1250.8,1172.9 1256.0,1179.3 1261.3,1187.7 1266.6,1183.5 1271.9,1183.5 1276.1,1168.7 1280.3,1154.0 1285.6,1147.6 1290.8,1145.5 1295.1,1141.3 1299.3,1135.0 1303.5,1137.1 1307.7,1145.5 1314.0,1149.7 1317.2,1156.1 1320.4,1172.9 1324.6,1189.8 1328.8,1202.5 1333.0,1208.8 1336.2,1213.0 1340.4,1216.2" fill="none" stroke="#00f" stroke-width="5.5" stroke-linejoin="round" stroke-linecap="round"/>
</g>
<line x1="108.86" y1="1168.9" x2="1376.3" y2="1168.9" stroke="#000" stroke-width="2.1" stroke-dasharray="6.6 11.943" stroke-linecap="round"/>
<text x="108.4" y="981.2" font-weight="bold" font-size="25">c)</text>
<text x="747" y="981.0" font-weight="bold" font-size="24.4" text-anchor="middle">ERA5</text>
<line x1="109" y1="1016.6" x2="109" y2="1321.7" stroke="#000" stroke-width="2.1" stroke-linecap="round"/>
<line x1="94.05" y1="1310.26" x2="109" y2="1310.26" stroke="#000" stroke-width="2.1" stroke-linecap="round"/>
<line x1="94.05" y1="1292.59" x2="109" y2="1292.59" stroke="#000" stroke-width="2.1" stroke-linecap="round"/>
<line x1="94.05" y1="1274.92" x2="109" y2="1274.92" stroke="#000" stroke-width="2.1" stroke-linecap="round"/>
<line x1="94.05" y1="1257.25" x2="109" y2="1257.25" stroke="#000" stroke-width="2.1" stroke-linecap="round"/>
<line x1="94.05" y1="1239.58" x2="109" y2="1239.58" stroke="#000" stroke-width="2.1" stroke-linecap="round"/>
<line x1="94.05" y1="1221.91" x2="109" y2="1221.91" stroke="#000" stroke-width="2.1" stroke-linecap="round"/>
<line x1="94.05" y1="1204.24" x2="109" y2="1204.24" stroke="#000" stroke-width="2.1" stroke-linecap="round"/>
<line x1="94.05" y1="1186.57" x2="109" y2="1186.57" stroke="#000" stroke-width="2.1" stroke-linecap="round"/>
<line x1="94.05" y1="1168.90" x2="109" y2="1168.90" stroke="#000" stroke-width="2.1" stroke-linecap="round"/>
<line x1="94.05" y1="1151.23" x2="109" y2="1151.23" stroke="#000" stroke-width="2.1" stroke-linecap="round"/>
<line x1="94.05" y1="1133.56" x2="109" y2="1133.56" stroke="#000" stroke-width="2.1" stroke-linecap="round"/>
<line x1="94.05" y1="1115.89" x2="109" y2="1115.89" stroke="#000" stroke-width="2.1" stroke-linecap="round"/>
<line x1="94.05" y1="1098.22" x2="109" y2="1098.22" stroke="#000" stroke-width="2.1" stroke-linecap="round"/>
<line x1="94.05" y1="1080.55" x2="109" y2="1080.55" stroke="#000" stroke-width="2.1" stroke-linecap="round"/>
<line x1="94.05" y1="1062.88" x2="109" y2="1062.88" stroke="#000" stroke-width="2.1" stroke-linecap="round"/>
<line x1="94.05" y1="1045.21" x2="109" y2="1045.21" stroke="#000" stroke-width="2.1" stroke-linecap="round"/>
<line x1="94.05" y1="1027.54" x2="109" y2="1027.54" stroke="#000" stroke-width="2.1" stroke-linecap="round"/>
<text transform="translate(74.2,1027.5) rotate(-90)" font-size="25" text-anchor="middle">4.0</text>
<text transform="translate(74.2,1098.2) rotate(-90)" font-size="25" text-anchor="middle">2.0</text>
<text transform="translate(74.2,1168.9) rotate(-90)" font-size="25" text-anchor="middle">0.0</text>
<text transform="translate(74.2,1239.6) rotate(-90)" font-size="25" text-anchor="middle">−2.0</text>
<text transform="translate(74.2,1310.3) rotate(-90)" font-size="25" text-anchor="middle">−4.0</text>
<text transform="translate(23.3,1168.7) rotate(-90)" font-size="31" text-anchor="middle">°C anomaly</text>
<line x1="130.04" y1="1321.6" x2="1387.1" y2="1321.6" stroke="#000" stroke-width="2.1" stroke-linecap="round"/>
<line x1="130.04" y1="1321.6" x2="130.04" y2="1336.3" stroke="#000" stroke-width="2.1" stroke-linecap="round"/>
<text x="130.0" y="1374.7" font-size="24.6" text-anchor="middle">1980</text>
<line x1="208.31" y1="1321.6" x2="208.31" y2="1336.3" stroke="#000" stroke-width="2.1" stroke-linecap="round"/>
<text x="208.3" y="1374.7" font-size="24.6" text-anchor="middle">1982</text>
<line x1="286.59" y1="1321.6" x2="286.59" y2="1336.3" stroke="#000" stroke-width="2.1" stroke-linecap="round"/>
<text x="286.6" y="1374.7" font-size="24.6" text-anchor="middle">1984</text>
<line x1="364.87" y1="1321.6" x2="364.87" y2="1336.3" stroke="#000" stroke-width="2.1" stroke-linecap="round"/>
<text x="364.9" y="1374.7" font-size="24.6" text-anchor="middle">1986</text>
<line x1="443.14" y1="1321.6" x2="443.14" y2="1336.3" stroke="#000" stroke-width="2.1" stroke-linecap="round"/>
<text x="443.1" y="1374.7" font-size="24.6" text-anchor="middle">1988</text>
<line x1="521.41" y1="1321.6" x2="521.41" y2="1336.3" stroke="#000" stroke-width="2.1" stroke-linecap="round"/>
<text x="521.4" y="1374.7" font-size="24.6" text-anchor="middle">1990</text>
<line x1="599.69" y1="1321.6" x2="599.69" y2="1336.3" stroke="#000" stroke-width="2.1" stroke-linecap="round"/>
<text x="599.7" y="1374.7" font-size="24.6" text-anchor="middle">1992</text>
<line x1="677.97" y1="1321.6" x2="677.97" y2="1336.3" stroke="#000" stroke-width="2.1" stroke-linecap="round"/>
<text x="678.0" y="1374.7" font-size="24.6" text-anchor="middle">1994</text>
<line x1="756.24" y1="1321.6" x2="756.24" y2="1336.3" stroke="#000" stroke-width="2.1" stroke-linecap="round"/>
<text x="756.2" y="1374.7" font-size="24.6" text-anchor="middle">1996</text>
<line x1="834.51" y1="1321.6" x2="834.51" y2="1336.3" stroke="#000" stroke-width="2.1" stroke-linecap="round"/>
<text x="834.5" y="1374.7" font-size="24.6" text-anchor="middle">1998</text>
<line x1="912.79" y1="1321.6" x2="912.79" y2="1336.3" stroke="#000" stroke-width="2.1" stroke-linecap="round"/>
<text x="912.8" y="1374.7" font-size="24.6" text-anchor="middle">2000</text>
<line x1="991.07" y1="1321.6" x2="991.07" y2="1336.3" stroke="#000" stroke-width="2.1" stroke-linecap="round"/>
<text x="991.1" y="1374.7" font-size="24.6" text-anchor="middle">2002</text>
<line x1="1069.34" y1="1321.6" x2="1069.34" y2="1336.3" stroke="#000" stroke-width="2.1" stroke-linecap="round"/>
<text x="1069.3" y="1374.7" font-size="24.6" text-anchor="middle">2004</text>
<line x1="1147.62" y1="1321.6" x2="1147.62" y2="1336.3" stroke="#000" stroke-width="2.1" stroke-linecap="round"/>
<text x="1147.6" y="1374.7" font-size="24.6" text-anchor="middle">2006</text>
<line x1="1225.89" y1="1321.6" x2="1225.89" y2="1336.3" stroke="#000" stroke-width="2.1" stroke-linecap="round"/>
<text x="1225.9" y="1374.7" font-size="24.6" text-anchor="middle">2008</text>
<line x1="1304.16" y1="1321.6" x2="1304.16" y2="1336.3" stroke="#000" stroke-width="2.1" stroke-linecap="round"/>
<text x="1304.2" y="1374.7" font-size="24.6" text-anchor="middle">2010</text>
<line x1="1382.44" y1="1321.6" x2="1382.44" y2="1336.3" stroke="#000" stroke-width="2.1" stroke-linecap="round"/>
<text x="1382.4" y="1374.7" font-size="24.6" text-anchor="middle">2012</text>
<rect x="131" y="1255.9" width="17.2" height="14" fill="#f00" stroke="#000" stroke-width="2"/>
<rect x="131" y="1285.2" width="17.2" height="14" fill="#00f" stroke="#000" stroke-width="2"/>
<text x="170.6" y="1271.2" font-size="24.35">MAT</text>
<text x="170.6" y="1300.7" font-size="24.35">SST</text>
<text x="937" y="1271.2" font-size="24.75" style="white-space:pre">ERA5 MAT trend: 0.04 ± 0.05  °C/10yrs</text>
<text x="937" y="1300.7" font-size="24.75" style="white-space:pre">ERA5 SST trend: −0.01 ± 0.07  °C/10yrs</text>
</svg>
</body></html>
